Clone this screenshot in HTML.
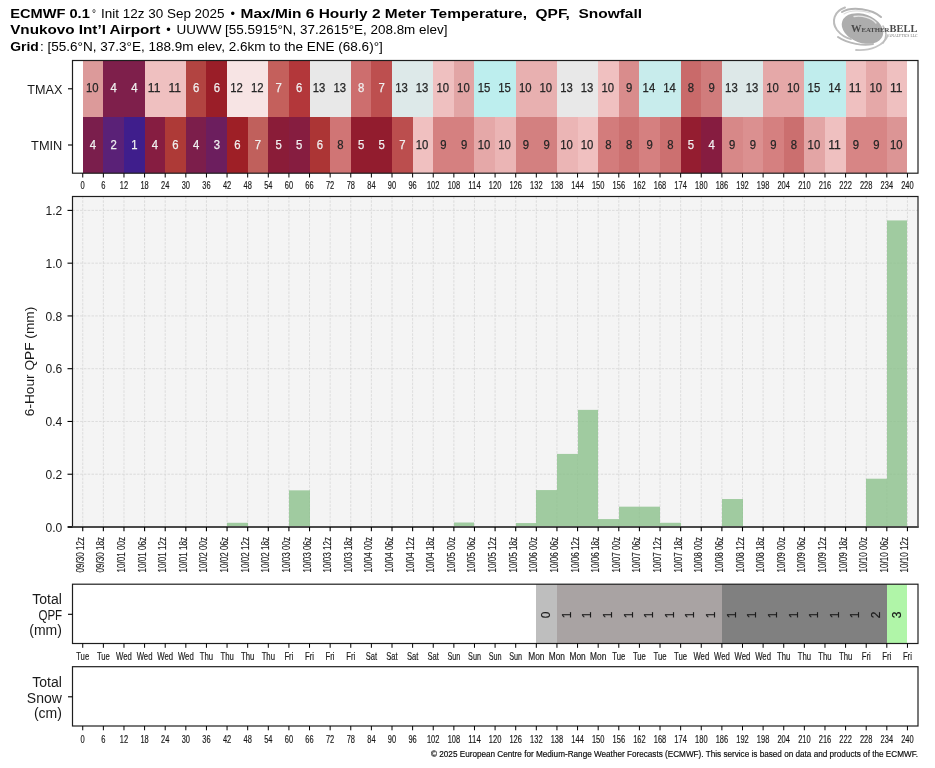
<!DOCTYPE html><html><head><meta charset="utf-8"><style>html,body{margin:0;padding:0;background:#fff;width:935px;height:768px;overflow:hidden}svg{display:block;will-change:transform}text{font-family:"Liberation Sans", sans-serif}.b{stroke:#1a1a1a;stroke-width:0.18}</style></head><body>
<svg width="935" height="768" viewBox="0 0 935 768">
<rect width="935" height="768" fill="#fff"/>
<text x="10.2" y="17.6" font-size="13.0" font-weight="bold" text-anchor="start" fill="#000" textLength="79.6" lengthAdjust="spacingAndGlyphs">ECMWF 0.1</text>
<text x="92.0" y="17.6" font-size="13.0" text-anchor="start" fill="#000" textLength="4.0" lengthAdjust="spacingAndGlyphs">°</text>
<text x="101.0" y="17.6" font-size="13.0" text-anchor="start" fill="#000" textLength="123.6" lengthAdjust="spacingAndGlyphs">Init 12z 30 Sep 2025</text>
<text x="230.5" y="17.6" font-size="13.0" text-anchor="start" fill="#000" textLength="4.5" lengthAdjust="spacingAndGlyphs">•</text>
<text x="240.6" y="17.6" font-size="13.0" font-weight="bold" text-anchor="start" fill="#000" textLength="401.4" lengthAdjust="spacingAndGlyphs" style="white-space:pre">Max/Min 6 Hourly 2 Meter Temperature,  QPF,  Snowfall</text>
<text x="10.2" y="34.2" font-size="13.0" font-weight="bold" text-anchor="start" fill="#000" textLength="150.2" lengthAdjust="spacingAndGlyphs">Vnukovo Int’l Airport</text>
<text x="166.3" y="34.2" font-size="13.0" text-anchor="start" fill="#000" textLength="4.5" lengthAdjust="spacingAndGlyphs">•</text>
<text x="176.5" y="34.2" font-size="13.0" text-anchor="start" fill="#000" textLength="271.0" lengthAdjust="spacingAndGlyphs">UUWW [55.5915°N, 37.2615°E, 208.8m elev]</text>
<text x="10.2" y="50.8" font-size="13.0" font-weight="bold" text-anchor="start" fill="#000" textLength="28.6" lengthAdjust="spacingAndGlyphs">Grid</text>
<text x="40.0" y="50.8" font-size="13.0" text-anchor="start" fill="#000" textLength="342.8" lengthAdjust="spacingAndGlyphs">: [55.6°N, 37.3°E, 188.9m elev, 2.6km to the ENE (68.6)°]</text>
<g fill="none" stroke-linecap="round"><ellipse cx="862.5" cy="28.5" rx="21.5" ry="14.3" fill="#adadad" transform="rotate(20 862.5 28.5)"/><path d="M854,16.5 C862,15 872,18 876,23" stroke="#e6e6e6" stroke-width="1.3"/><path d="M844,14 C850,10 862,10 870,13" stroke="#dedede" stroke-width="1.1"/><path d="M845,7.5 C834,11 831,22 837,30 C841,35 846,38 851,39" stroke="#bcbcbc" stroke-width="2"/><path d="M842,12 C852,6 872,9 881,17" stroke="#b4b4b4" stroke-width="2"/><path d="M838,37 C848,44 864,46 873,44" stroke="#b8b8b8" stroke-width="2"/><path d="M856,50 C870,51 884,46 888,35" stroke="#c4c4c4" stroke-width="1.8"/><path d="M883,26 C887,31 887,38 883,43" stroke="#bdbdbd" stroke-width="1.6"/></g>
<text x="851" y="32.4" style="font-family:'Liberation Serif',serif" font-weight="bold" font-size="10.5" fill="#4a4a4a" textLength="66.4" lengthAdjust="spacingAndGlyphs">W<tspan font-size="6.8">EATHER</tspan>BELL</text>
<text x="888.5" y="37" style="font-family:'Liberation Serif',serif" font-size="3.2" fill="#707070" textLength="29" lengthAdjust="spacingAndGlyphs">ANALYTICS LLC</text>
<rect x="83" y="60.5" width="20" height="56.5" fill="#dc9a9a"/>
<rect x="103" y="60.5" width="21" height="56.5" fill="#7e1f4b"/>
<rect x="124" y="60.5" width="21" height="56.5" fill="#7e1f4b"/>
<rect x="145" y="60.5" width="20" height="56.5" fill="#efc0c0"/>
<rect x="165" y="60.5" width="21" height="56.5" fill="#efc0c0"/>
<rect x="186" y="60.5" width="20" height="56.5" fill="#b24441"/>
<rect x="206" y="60.5" width="21" height="56.5" fill="#9a1e28"/>
<rect x="227" y="60.5" width="21" height="56.5" fill="#f7e4e4"/>
<rect x="248" y="60.5" width="20" height="56.5" fill="#f7e4e4"/>
<rect x="268" y="60.5" width="21" height="56.5" fill="#c4605c"/>
<rect x="289" y="60.5" width="21" height="56.5" fill="#b3373a"/>
<rect x="310" y="60.5" width="20" height="56.5" fill="#e8e8e8"/>
<rect x="330" y="60.5" width="21" height="56.5" fill="#e8e8e8"/>
<rect x="351" y="60.5" width="20" height="56.5" fill="#cd6e6e"/>
<rect x="371" y="60.5" width="21" height="56.5" fill="#bd4f4f"/>
<rect x="392" y="60.5" width="21" height="56.5" fill="#dde9e9"/>
<rect x="413" y="60.5" width="20" height="56.5" fill="#dde9e9"/>
<rect x="433" y="60.5" width="21" height="56.5" fill="#efc0c0"/>
<rect x="454" y="60.5" width="20" height="56.5" fill="#e2a5a5"/>
<rect x="474" y="60.5" width="21" height="56.5" fill="#bdeeee"/>
<rect x="495" y="60.5" width="21" height="56.5" fill="#bdeeee"/>
<rect x="516" y="60.5" width="20" height="56.5" fill="#e8b0b0"/>
<rect x="536" y="60.5" width="21" height="56.5" fill="#e8b0b0"/>
<rect x="557" y="60.5" width="21" height="56.5" fill="#e8e8e8"/>
<rect x="578" y="60.5" width="20" height="56.5" fill="#e8e8e8"/>
<rect x="598" y="60.5" width="21" height="56.5" fill="#f0c0c0"/>
<rect x="619" y="60.5" width="20" height="56.5" fill="#d98c8c"/>
<rect x="639" y="60.5" width="21" height="56.5" fill="#c8ecec"/>
<rect x="660" y="60.5" width="21" height="56.5" fill="#c8ecec"/>
<rect x="681" y="60.5" width="20" height="56.5" fill="#c96a6a"/>
<rect x="701" y="60.5" width="21" height="56.5" fill="#d07c7c"/>
<rect x="722" y="60.5" width="21" height="56.5" fill="#dde8e8"/>
<rect x="743" y="60.5" width="20" height="56.5" fill="#dde8e8"/>
<rect x="763" y="60.5" width="21" height="56.5" fill="#e5a8a8"/>
<rect x="784" y="60.5" width="20" height="56.5" fill="#e5a8a8"/>
<rect x="804" y="60.5" width="21" height="56.5" fill="#c0eded"/>
<rect x="825" y="60.5" width="21" height="56.5" fill="#c0eded"/>
<rect x="846" y="60.5" width="20" height="56.5" fill="#efc0c0"/>
<rect x="866" y="60.5" width="21" height="56.5" fill="#e5a8a8"/>
<rect x="887" y="60.5" width="20" height="56.5" fill="#efc0c0"/>
<rect x="83" y="117.0" width="20" height="56.2" fill="#7a1e4c"/>
<rect x="103" y="117.0" width="21" height="56.2" fill="#5a2177"/>
<rect x="124" y="117.0" width="21" height="56.2" fill="#3f1e8c"/>
<rect x="145" y="117.0" width="20" height="56.2" fill="#861d41"/>
<rect x="165" y="117.0" width="21" height="56.2" fill="#ae3a37"/>
<rect x="186" y="117.0" width="20" height="56.2" fill="#7c1e4b"/>
<rect x="206" y="117.0" width="21" height="56.2" fill="#6c1e5e"/>
<rect x="227" y="117.0" width="21" height="56.2" fill="#9e1f26"/>
<rect x="248" y="117.0" width="20" height="56.2" fill="#c0605c"/>
<rect x="268" y="117.0" width="21" height="56.2" fill="#8a1c38"/>
<rect x="289" y="117.0" width="21" height="56.2" fill="#861d40"/>
<rect x="310" y="117.0" width="20" height="56.2" fill="#ac3535"/>
<rect x="330" y="117.0" width="21" height="56.2" fill="#d07575"/>
<rect x="351" y="117.0" width="20" height="56.2" fill="#921c2e"/>
<rect x="371" y="117.0" width="21" height="56.2" fill="#921c2e"/>
<rect x="392" y="117.0" width="21" height="56.2" fill="#bb4e4e"/>
<rect x="413" y="117.0" width="20" height="56.2" fill="#f0c0c0"/>
<rect x="433" y="117.0" width="21" height="56.2" fill="#d58080"/>
<rect x="454" y="117.0" width="20" height="56.2" fill="#d58080"/>
<rect x="474" y="117.0" width="21" height="56.2" fill="#e5a8a8"/>
<rect x="495" y="117.0" width="21" height="56.2" fill="#ebb5b5"/>
<rect x="516" y="117.0" width="20" height="56.2" fill="#d38080"/>
<rect x="536" y="117.0" width="21" height="56.2" fill="#d38080"/>
<rect x="557" y="117.0" width="21" height="56.2" fill="#ebb5b5"/>
<rect x="578" y="117.0" width="20" height="56.2" fill="#f0c0c0"/>
<rect x="598" y="117.0" width="21" height="56.2" fill="#d37c7c"/>
<rect x="619" y="117.0" width="20" height="56.2" fill="#cc7070"/>
<rect x="639" y="117.0" width="21" height="56.2" fill="#d58080"/>
<rect x="660" y="117.0" width="21" height="56.2" fill="#cc7070"/>
<rect x="681" y="117.0" width="20" height="56.2" fill="#941d30"/>
<rect x="701" y="117.0" width="21" height="56.2" fill="#861c40"/>
<rect x="722" y="117.0" width="21" height="56.2" fill="#d78888"/>
<rect x="743" y="117.0" width="20" height="56.2" fill="#db9090"/>
<rect x="763" y="117.0" width="21" height="56.2" fill="#d58080"/>
<rect x="784" y="117.0" width="20" height="56.2" fill="#cb6f6f"/>
<rect x="804" y="117.0" width="21" height="56.2" fill="#e3a5a5"/>
<rect x="825" y="117.0" width="21" height="56.2" fill="#efc0c0"/>
<rect x="846" y="117.0" width="20" height="56.2" fill="#d78585"/>
<rect x="866" y="117.0" width="21" height="56.2" fill="#d78585"/>
<rect x="887" y="117.0" width="20" height="56.2" fill="#dc9595"/>
<text x="92.2" y="92.0" font-size="12.3" text-anchor="middle" fill="#262626" textLength="12.6" lengthAdjust="spacingAndGlyphs" stroke="#262626" stroke-width="0.25">10</text>
<text x="113.7" y="92.0" font-size="12.3" text-anchor="middle" fill="#f0f0f0" textLength="6.3" lengthAdjust="spacingAndGlyphs" stroke="#f0f0f0" stroke-width="0.25">4</text>
<text x="134.3" y="92.0" font-size="12.3" text-anchor="middle" fill="#f0f0f0" textLength="6.3" lengthAdjust="spacingAndGlyphs" stroke="#f0f0f0" stroke-width="0.25">4</text>
<text x="154.1" y="92.0" font-size="12.3" text-anchor="middle" fill="#262626" textLength="12.6" lengthAdjust="spacingAndGlyphs" stroke="#262626" stroke-width="0.25">11</text>
<text x="174.7" y="92.0" font-size="12.3" text-anchor="middle" fill="#262626" textLength="12.6" lengthAdjust="spacingAndGlyphs" stroke="#262626" stroke-width="0.25">11</text>
<text x="196.1" y="92.0" font-size="12.3" text-anchor="middle" fill="#f0f0f0" textLength="6.3" lengthAdjust="spacingAndGlyphs" stroke="#f0f0f0" stroke-width="0.25">6</text>
<text x="216.8" y="92.0" font-size="12.3" text-anchor="middle" fill="#f0f0f0" textLength="6.3" lengthAdjust="spacingAndGlyphs" stroke="#f0f0f0" stroke-width="0.25">6</text>
<text x="236.6" y="92.0" font-size="12.3" text-anchor="middle" fill="#262626" textLength="12.6" lengthAdjust="spacingAndGlyphs" stroke="#262626" stroke-width="0.25">12</text>
<text x="257.2" y="92.0" font-size="12.3" text-anchor="middle" fill="#262626" textLength="12.6" lengthAdjust="spacingAndGlyphs" stroke="#262626" stroke-width="0.25">12</text>
<text x="278.6" y="92.0" font-size="12.3" text-anchor="middle" fill="#f0f0f0" textLength="6.3" lengthAdjust="spacingAndGlyphs" stroke="#f0f0f0" stroke-width="0.25">7</text>
<text x="299.2" y="92.0" font-size="12.3" text-anchor="middle" fill="#f0f0f0" textLength="6.3" lengthAdjust="spacingAndGlyphs" stroke="#f0f0f0" stroke-width="0.25">6</text>
<text x="319.0" y="92.0" font-size="12.3" text-anchor="middle" fill="#262626" textLength="12.6" lengthAdjust="spacingAndGlyphs" stroke="#262626" stroke-width="0.25">13</text>
<text x="339.7" y="92.0" font-size="12.3" text-anchor="middle" fill="#262626" textLength="12.6" lengthAdjust="spacingAndGlyphs" stroke="#262626" stroke-width="0.25">13</text>
<text x="361.1" y="92.0" font-size="12.3" text-anchor="middle" fill="#f0f0f0" textLength="6.3" lengthAdjust="spacingAndGlyphs" stroke="#f0f0f0" stroke-width="0.25">8</text>
<text x="381.7" y="92.0" font-size="12.3" text-anchor="middle" fill="#f0f0f0" textLength="6.3" lengthAdjust="spacingAndGlyphs" stroke="#f0f0f0" stroke-width="0.25">7</text>
<text x="401.5" y="92.0" font-size="12.3" text-anchor="middle" fill="#262626" textLength="12.6" lengthAdjust="spacingAndGlyphs" stroke="#262626" stroke-width="0.25">13</text>
<text x="422.1" y="92.0" font-size="12.3" text-anchor="middle" fill="#262626" textLength="12.6" lengthAdjust="spacingAndGlyphs" stroke="#262626" stroke-width="0.25">13</text>
<text x="442.7" y="92.0" font-size="12.3" text-anchor="middle" fill="#262626" textLength="12.6" lengthAdjust="spacingAndGlyphs" stroke="#262626" stroke-width="0.25">10</text>
<text x="463.4" y="92.0" font-size="12.3" text-anchor="middle" fill="#262626" textLength="12.6" lengthAdjust="spacingAndGlyphs" stroke="#262626" stroke-width="0.25">10</text>
<text x="484.0" y="92.0" font-size="12.3" text-anchor="middle" fill="#262626" textLength="12.6" lengthAdjust="spacingAndGlyphs" stroke="#262626" stroke-width="0.25">15</text>
<text x="504.6" y="92.0" font-size="12.3" text-anchor="middle" fill="#262626" textLength="12.6" lengthAdjust="spacingAndGlyphs" stroke="#262626" stroke-width="0.25">15</text>
<text x="525.2" y="92.0" font-size="12.3" text-anchor="middle" fill="#262626" textLength="12.6" lengthAdjust="spacingAndGlyphs" stroke="#262626" stroke-width="0.25">10</text>
<text x="545.8" y="92.0" font-size="12.3" text-anchor="middle" fill="#262626" textLength="12.6" lengthAdjust="spacingAndGlyphs" stroke="#262626" stroke-width="0.25">10</text>
<text x="566.5" y="92.0" font-size="12.3" text-anchor="middle" fill="#262626" textLength="12.6" lengthAdjust="spacingAndGlyphs" stroke="#262626" stroke-width="0.25">13</text>
<text x="587.1" y="92.0" font-size="12.3" text-anchor="middle" fill="#262626" textLength="12.6" lengthAdjust="spacingAndGlyphs" stroke="#262626" stroke-width="0.25">13</text>
<text x="607.7" y="92.0" font-size="12.3" text-anchor="middle" fill="#262626" textLength="12.6" lengthAdjust="spacingAndGlyphs" stroke="#262626" stroke-width="0.25">10</text>
<text x="629.1" y="92.0" font-size="12.3" text-anchor="middle" fill="#262626" textLength="6.3" lengthAdjust="spacingAndGlyphs" stroke="#262626" stroke-width="0.25">9</text>
<text x="648.9" y="92.0" font-size="12.3" text-anchor="middle" fill="#262626" textLength="12.6" lengthAdjust="spacingAndGlyphs" stroke="#262626" stroke-width="0.25">14</text>
<text x="669.5" y="92.0" font-size="12.3" text-anchor="middle" fill="#262626" textLength="12.6" lengthAdjust="spacingAndGlyphs" stroke="#262626" stroke-width="0.25">14</text>
<text x="691.0" y="92.0" font-size="12.3" text-anchor="middle" fill="#262626" textLength="6.3" lengthAdjust="spacingAndGlyphs" stroke="#262626" stroke-width="0.25">8</text>
<text x="711.6" y="92.0" font-size="12.3" text-anchor="middle" fill="#262626" textLength="6.3" lengthAdjust="spacingAndGlyphs" stroke="#262626" stroke-width="0.25">9</text>
<text x="731.4" y="92.0" font-size="12.3" text-anchor="middle" fill="#262626" textLength="12.6" lengthAdjust="spacingAndGlyphs" stroke="#262626" stroke-width="0.25">13</text>
<text x="752.0" y="92.0" font-size="12.3" text-anchor="middle" fill="#262626" textLength="12.6" lengthAdjust="spacingAndGlyphs" stroke="#262626" stroke-width="0.25">13</text>
<text x="772.6" y="92.0" font-size="12.3" text-anchor="middle" fill="#262626" textLength="12.6" lengthAdjust="spacingAndGlyphs" stroke="#262626" stroke-width="0.25">10</text>
<text x="793.2" y="92.0" font-size="12.3" text-anchor="middle" fill="#262626" textLength="12.6" lengthAdjust="spacingAndGlyphs" stroke="#262626" stroke-width="0.25">10</text>
<text x="813.9" y="92.0" font-size="12.3" text-anchor="middle" fill="#262626" textLength="12.6" lengthAdjust="spacingAndGlyphs" stroke="#262626" stroke-width="0.25">15</text>
<text x="834.5" y="92.0" font-size="12.3" text-anchor="middle" fill="#262626" textLength="12.6" lengthAdjust="spacingAndGlyphs" stroke="#262626" stroke-width="0.25">14</text>
<text x="855.1" y="92.0" font-size="12.3" text-anchor="middle" fill="#262626" textLength="12.6" lengthAdjust="spacingAndGlyphs" stroke="#262626" stroke-width="0.25">11</text>
<text x="875.7" y="92.0" font-size="12.3" text-anchor="middle" fill="#262626" textLength="12.6" lengthAdjust="spacingAndGlyphs" stroke="#262626" stroke-width="0.25">10</text>
<text x="896.3" y="92.0" font-size="12.3" text-anchor="middle" fill="#262626" textLength="12.6" lengthAdjust="spacingAndGlyphs" stroke="#262626" stroke-width="0.25">11</text>
<text x="93.0" y="148.6" font-size="12.3" text-anchor="middle" fill="#f0f0f0" textLength="6.3" lengthAdjust="spacingAndGlyphs" stroke="#f0f0f0" stroke-width="0.25">4</text>
<text x="113.7" y="148.6" font-size="12.3" text-anchor="middle" fill="#f0f0f0" textLength="6.3" lengthAdjust="spacingAndGlyphs" stroke="#f0f0f0" stroke-width="0.25">2</text>
<text x="134.3" y="148.6" font-size="12.3" text-anchor="middle" fill="#f0f0f0" textLength="6.3" lengthAdjust="spacingAndGlyphs" stroke="#f0f0f0" stroke-width="0.25">1</text>
<text x="154.9" y="148.6" font-size="12.3" text-anchor="middle" fill="#f0f0f0" textLength="6.3" lengthAdjust="spacingAndGlyphs" stroke="#f0f0f0" stroke-width="0.25">4</text>
<text x="175.5" y="148.6" font-size="12.3" text-anchor="middle" fill="#f0f0f0" textLength="6.3" lengthAdjust="spacingAndGlyphs" stroke="#f0f0f0" stroke-width="0.25">6</text>
<text x="196.1" y="148.6" font-size="12.3" text-anchor="middle" fill="#f0f0f0" textLength="6.3" lengthAdjust="spacingAndGlyphs" stroke="#f0f0f0" stroke-width="0.25">4</text>
<text x="216.8" y="148.6" font-size="12.3" text-anchor="middle" fill="#f0f0f0" textLength="6.3" lengthAdjust="spacingAndGlyphs" stroke="#f0f0f0" stroke-width="0.25">3</text>
<text x="237.4" y="148.6" font-size="12.3" text-anchor="middle" fill="#f0f0f0" textLength="6.3" lengthAdjust="spacingAndGlyphs" stroke="#f0f0f0" stroke-width="0.25">6</text>
<text x="258.0" y="148.6" font-size="12.3" text-anchor="middle" fill="#f0f0f0" textLength="6.3" lengthAdjust="spacingAndGlyphs" stroke="#f0f0f0" stroke-width="0.25">7</text>
<text x="278.6" y="148.6" font-size="12.3" text-anchor="middle" fill="#f0f0f0" textLength="6.3" lengthAdjust="spacingAndGlyphs" stroke="#f0f0f0" stroke-width="0.25">5</text>
<text x="299.2" y="148.6" font-size="12.3" text-anchor="middle" fill="#f0f0f0" textLength="6.3" lengthAdjust="spacingAndGlyphs" stroke="#f0f0f0" stroke-width="0.25">5</text>
<text x="319.8" y="148.6" font-size="12.3" text-anchor="middle" fill="#f0f0f0" textLength="6.3" lengthAdjust="spacingAndGlyphs" stroke="#f0f0f0" stroke-width="0.25">6</text>
<text x="340.5" y="148.6" font-size="12.3" text-anchor="middle" fill="#262626" textLength="6.3" lengthAdjust="spacingAndGlyphs" stroke="#262626" stroke-width="0.25">8</text>
<text x="361.1" y="148.6" font-size="12.3" text-anchor="middle" fill="#f0f0f0" textLength="6.3" lengthAdjust="spacingAndGlyphs" stroke="#f0f0f0" stroke-width="0.25">5</text>
<text x="381.7" y="148.6" font-size="12.3" text-anchor="middle" fill="#f0f0f0" textLength="6.3" lengthAdjust="spacingAndGlyphs" stroke="#f0f0f0" stroke-width="0.25">5</text>
<text x="402.3" y="148.6" font-size="12.3" text-anchor="middle" fill="#f0f0f0" textLength="6.3" lengthAdjust="spacingAndGlyphs" stroke="#f0f0f0" stroke-width="0.25">7</text>
<text x="422.1" y="148.6" font-size="12.3" text-anchor="middle" fill="#262626" textLength="12.6" lengthAdjust="spacingAndGlyphs" stroke="#262626" stroke-width="0.25">10</text>
<text x="443.5" y="148.6" font-size="12.3" text-anchor="middle" fill="#262626" textLength="6.3" lengthAdjust="spacingAndGlyphs" stroke="#262626" stroke-width="0.25">9</text>
<text x="464.2" y="148.6" font-size="12.3" text-anchor="middle" fill="#262626" textLength="6.3" lengthAdjust="spacingAndGlyphs" stroke="#262626" stroke-width="0.25">9</text>
<text x="484.0" y="148.6" font-size="12.3" text-anchor="middle" fill="#262626" textLength="12.6" lengthAdjust="spacingAndGlyphs" stroke="#262626" stroke-width="0.25">10</text>
<text x="504.6" y="148.6" font-size="12.3" text-anchor="middle" fill="#262626" textLength="12.6" lengthAdjust="spacingAndGlyphs" stroke="#262626" stroke-width="0.25">10</text>
<text x="526.0" y="148.6" font-size="12.3" text-anchor="middle" fill="#262626" textLength="6.3" lengthAdjust="spacingAndGlyphs" stroke="#262626" stroke-width="0.25">9</text>
<text x="546.6" y="148.6" font-size="12.3" text-anchor="middle" fill="#262626" textLength="6.3" lengthAdjust="spacingAndGlyphs" stroke="#262626" stroke-width="0.25">9</text>
<text x="566.5" y="148.6" font-size="12.3" text-anchor="middle" fill="#262626" textLength="12.6" lengthAdjust="spacingAndGlyphs" stroke="#262626" stroke-width="0.25">10</text>
<text x="587.1" y="148.6" font-size="12.3" text-anchor="middle" fill="#262626" textLength="12.6" lengthAdjust="spacingAndGlyphs" stroke="#262626" stroke-width="0.25">10</text>
<text x="608.5" y="148.6" font-size="12.3" text-anchor="middle" fill="#262626" textLength="6.3" lengthAdjust="spacingAndGlyphs" stroke="#262626" stroke-width="0.25">8</text>
<text x="629.1" y="148.6" font-size="12.3" text-anchor="middle" fill="#262626" textLength="6.3" lengthAdjust="spacingAndGlyphs" stroke="#262626" stroke-width="0.25">8</text>
<text x="649.7" y="148.6" font-size="12.3" text-anchor="middle" fill="#262626" textLength="6.3" lengthAdjust="spacingAndGlyphs" stroke="#262626" stroke-width="0.25">9</text>
<text x="670.3" y="148.6" font-size="12.3" text-anchor="middle" fill="#262626" textLength="6.3" lengthAdjust="spacingAndGlyphs" stroke="#262626" stroke-width="0.25">8</text>
<text x="691.0" y="148.6" font-size="12.3" text-anchor="middle" fill="#f0f0f0" textLength="6.3" lengthAdjust="spacingAndGlyphs" stroke="#f0f0f0" stroke-width="0.25">5</text>
<text x="711.6" y="148.6" font-size="12.3" text-anchor="middle" fill="#f0f0f0" textLength="6.3" lengthAdjust="spacingAndGlyphs" stroke="#f0f0f0" stroke-width="0.25">4</text>
<text x="732.2" y="148.6" font-size="12.3" text-anchor="middle" fill="#262626" textLength="6.3" lengthAdjust="spacingAndGlyphs" stroke="#262626" stroke-width="0.25">9</text>
<text x="752.8" y="148.6" font-size="12.3" text-anchor="middle" fill="#262626" textLength="6.3" lengthAdjust="spacingAndGlyphs" stroke="#262626" stroke-width="0.25">9</text>
<text x="773.4" y="148.6" font-size="12.3" text-anchor="middle" fill="#262626" textLength="6.3" lengthAdjust="spacingAndGlyphs" stroke="#262626" stroke-width="0.25">9</text>
<text x="794.0" y="148.6" font-size="12.3" text-anchor="middle" fill="#262626" textLength="6.3" lengthAdjust="spacingAndGlyphs" stroke="#262626" stroke-width="0.25">8</text>
<text x="813.9" y="148.6" font-size="12.3" text-anchor="middle" fill="#262626" textLength="12.6" lengthAdjust="spacingAndGlyphs" stroke="#262626" stroke-width="0.25">10</text>
<text x="834.5" y="148.6" font-size="12.3" text-anchor="middle" fill="#262626" textLength="12.6" lengthAdjust="spacingAndGlyphs" stroke="#262626" stroke-width="0.25">11</text>
<text x="855.9" y="148.6" font-size="12.3" text-anchor="middle" fill="#262626" textLength="6.3" lengthAdjust="spacingAndGlyphs" stroke="#262626" stroke-width="0.25">9</text>
<text x="876.5" y="148.6" font-size="12.3" text-anchor="middle" fill="#262626" textLength="6.3" lengthAdjust="spacingAndGlyphs" stroke="#262626" stroke-width="0.25">9</text>
<text x="896.3" y="148.6" font-size="12.3" text-anchor="middle" fill="#262626" textLength="12.6" lengthAdjust="spacingAndGlyphs" stroke="#262626" stroke-width="0.25">10</text>
<rect x="72.5" y="60.5" width="845.5" height="112.7" fill="none" stroke="#1e1e1e" stroke-width="1.2"/>
<line x1="68" y1="88.8" x2="72.5" y2="88.8" stroke="#000" stroke-width="1.1"/>
<text x="62.3" y="93.8" font-size="13.4" text-anchor="end" fill="#1a1a1a" textLength="35.0" lengthAdjust="spacingAndGlyphs">TMAX</text>
<line x1="68" y1="145.0" x2="72.5" y2="145.0" stroke="#000" stroke-width="1.1"/>
<text x="62.3" y="149.5" font-size="13.4" text-anchor="end" fill="#1a1a1a" textLength="31.2" lengthAdjust="spacingAndGlyphs">TMIN</text>
<line x1="82.74" y1="173.2" x2="82.74" y2="177.5" stroke="#000" stroke-width="1"/>
<text x="82.7" y="189.4" font-size="10.6" text-anchor="middle" fill="#1a1a1a" textLength="4.2" lengthAdjust="spacingAndGlyphs" class="b">0</text>
<line x1="103.36" y1="173.2" x2="103.36" y2="177.5" stroke="#000" stroke-width="1"/>
<text x="103.4" y="189.4" font-size="10.6" text-anchor="middle" fill="#1a1a1a" textLength="4.2" lengthAdjust="spacingAndGlyphs" class="b">6</text>
<line x1="123.97" y1="173.2" x2="123.97" y2="177.5" stroke="#000" stroke-width="1"/>
<text x="124.0" y="189.4" font-size="10.6" text-anchor="middle" fill="#1a1a1a" textLength="8.3" lengthAdjust="spacingAndGlyphs" class="b">12</text>
<line x1="144.59" y1="173.2" x2="144.59" y2="177.5" stroke="#000" stroke-width="1"/>
<text x="144.6" y="189.4" font-size="10.6" text-anchor="middle" fill="#1a1a1a" textLength="8.3" lengthAdjust="spacingAndGlyphs" class="b">18</text>
<line x1="165.21" y1="173.2" x2="165.21" y2="177.5" stroke="#000" stroke-width="1"/>
<text x="165.2" y="189.4" font-size="10.6" text-anchor="middle" fill="#1a1a1a" textLength="8.3" lengthAdjust="spacingAndGlyphs" class="b">24</text>
<line x1="185.83" y1="173.2" x2="185.83" y2="177.5" stroke="#000" stroke-width="1"/>
<text x="185.8" y="189.4" font-size="10.6" text-anchor="middle" fill="#1a1a1a" textLength="8.3" lengthAdjust="spacingAndGlyphs" class="b">30</text>
<line x1="206.44" y1="173.2" x2="206.44" y2="177.5" stroke="#000" stroke-width="1"/>
<text x="206.4" y="189.4" font-size="10.6" text-anchor="middle" fill="#1a1a1a" textLength="8.3" lengthAdjust="spacingAndGlyphs" class="b">36</text>
<line x1="227.06" y1="173.2" x2="227.06" y2="177.5" stroke="#000" stroke-width="1"/>
<text x="227.1" y="189.4" font-size="10.6" text-anchor="middle" fill="#1a1a1a" textLength="8.3" lengthAdjust="spacingAndGlyphs" class="b">42</text>
<line x1="247.68" y1="173.2" x2="247.68" y2="177.5" stroke="#000" stroke-width="1"/>
<text x="247.7" y="189.4" font-size="10.6" text-anchor="middle" fill="#1a1a1a" textLength="8.3" lengthAdjust="spacingAndGlyphs" class="b">48</text>
<line x1="268.30" y1="173.2" x2="268.30" y2="177.5" stroke="#000" stroke-width="1"/>
<text x="268.3" y="189.4" font-size="10.6" text-anchor="middle" fill="#1a1a1a" textLength="8.3" lengthAdjust="spacingAndGlyphs" class="b">54</text>
<line x1="288.91" y1="173.2" x2="288.91" y2="177.5" stroke="#000" stroke-width="1"/>
<text x="288.9" y="189.4" font-size="10.6" text-anchor="middle" fill="#1a1a1a" textLength="8.3" lengthAdjust="spacingAndGlyphs" class="b">60</text>
<line x1="309.53" y1="173.2" x2="309.53" y2="177.5" stroke="#000" stroke-width="1"/>
<text x="309.5" y="189.4" font-size="10.6" text-anchor="middle" fill="#1a1a1a" textLength="8.3" lengthAdjust="spacingAndGlyphs" class="b">66</text>
<line x1="330.15" y1="173.2" x2="330.15" y2="177.5" stroke="#000" stroke-width="1"/>
<text x="330.1" y="189.4" font-size="10.6" text-anchor="middle" fill="#1a1a1a" textLength="8.3" lengthAdjust="spacingAndGlyphs" class="b">72</text>
<line x1="350.77" y1="173.2" x2="350.77" y2="177.5" stroke="#000" stroke-width="1"/>
<text x="350.8" y="189.4" font-size="10.6" text-anchor="middle" fill="#1a1a1a" textLength="8.3" lengthAdjust="spacingAndGlyphs" class="b">78</text>
<line x1="371.38" y1="173.2" x2="371.38" y2="177.5" stroke="#000" stroke-width="1"/>
<text x="371.4" y="189.4" font-size="10.6" text-anchor="middle" fill="#1a1a1a" textLength="8.3" lengthAdjust="spacingAndGlyphs" class="b">84</text>
<line x1="392.00" y1="173.2" x2="392.00" y2="177.5" stroke="#000" stroke-width="1"/>
<text x="392.0" y="189.4" font-size="10.6" text-anchor="middle" fill="#1a1a1a" textLength="8.3" lengthAdjust="spacingAndGlyphs" class="b">90</text>
<line x1="412.62" y1="173.2" x2="412.62" y2="177.5" stroke="#000" stroke-width="1"/>
<text x="412.6" y="189.4" font-size="10.6" text-anchor="middle" fill="#1a1a1a" textLength="8.3" lengthAdjust="spacingAndGlyphs" class="b">96</text>
<line x1="433.24" y1="173.2" x2="433.24" y2="177.5" stroke="#000" stroke-width="1"/>
<text x="433.2" y="189.4" font-size="10.6" text-anchor="middle" fill="#1a1a1a" textLength="12.5" lengthAdjust="spacingAndGlyphs" class="b">102</text>
<line x1="453.86" y1="173.2" x2="453.86" y2="177.5" stroke="#000" stroke-width="1"/>
<text x="453.9" y="189.4" font-size="10.6" text-anchor="middle" fill="#1a1a1a" textLength="12.5" lengthAdjust="spacingAndGlyphs" class="b">108</text>
<line x1="474.47" y1="173.2" x2="474.47" y2="177.5" stroke="#000" stroke-width="1"/>
<text x="474.5" y="189.4" font-size="10.6" text-anchor="middle" fill="#1a1a1a" textLength="12.5" lengthAdjust="spacingAndGlyphs" class="b">114</text>
<line x1="495.09" y1="173.2" x2="495.09" y2="177.5" stroke="#000" stroke-width="1"/>
<text x="495.1" y="189.4" font-size="10.6" text-anchor="middle" fill="#1a1a1a" textLength="12.5" lengthAdjust="spacingAndGlyphs" class="b">120</text>
<line x1="515.71" y1="173.2" x2="515.71" y2="177.5" stroke="#000" stroke-width="1"/>
<text x="515.7" y="189.4" font-size="10.6" text-anchor="middle" fill="#1a1a1a" textLength="12.5" lengthAdjust="spacingAndGlyphs" class="b">126</text>
<line x1="536.32" y1="173.2" x2="536.32" y2="177.5" stroke="#000" stroke-width="1"/>
<text x="536.3" y="189.4" font-size="10.6" text-anchor="middle" fill="#1a1a1a" textLength="12.5" lengthAdjust="spacingAndGlyphs" class="b">132</text>
<line x1="556.94" y1="173.2" x2="556.94" y2="177.5" stroke="#000" stroke-width="1"/>
<text x="556.9" y="189.4" font-size="10.6" text-anchor="middle" fill="#1a1a1a" textLength="12.5" lengthAdjust="spacingAndGlyphs" class="b">138</text>
<line x1="577.56" y1="173.2" x2="577.56" y2="177.5" stroke="#000" stroke-width="1"/>
<text x="577.6" y="189.4" font-size="10.6" text-anchor="middle" fill="#1a1a1a" textLength="12.5" lengthAdjust="spacingAndGlyphs" class="b">144</text>
<line x1="598.18" y1="173.2" x2="598.18" y2="177.5" stroke="#000" stroke-width="1"/>
<text x="598.2" y="189.4" font-size="10.6" text-anchor="middle" fill="#1a1a1a" textLength="12.5" lengthAdjust="spacingAndGlyphs" class="b">150</text>
<line x1="618.79" y1="173.2" x2="618.79" y2="177.5" stroke="#000" stroke-width="1"/>
<text x="618.8" y="189.4" font-size="10.6" text-anchor="middle" fill="#1a1a1a" textLength="12.5" lengthAdjust="spacingAndGlyphs" class="b">156</text>
<line x1="639.41" y1="173.2" x2="639.41" y2="177.5" stroke="#000" stroke-width="1"/>
<text x="639.4" y="189.4" font-size="10.6" text-anchor="middle" fill="#1a1a1a" textLength="12.5" lengthAdjust="spacingAndGlyphs" class="b">162</text>
<line x1="660.03" y1="173.2" x2="660.03" y2="177.5" stroke="#000" stroke-width="1"/>
<text x="660.0" y="189.4" font-size="10.6" text-anchor="middle" fill="#1a1a1a" textLength="12.5" lengthAdjust="spacingAndGlyphs" class="b">168</text>
<line x1="680.65" y1="173.2" x2="680.65" y2="177.5" stroke="#000" stroke-width="1"/>
<text x="680.6" y="189.4" font-size="10.6" text-anchor="middle" fill="#1a1a1a" textLength="12.5" lengthAdjust="spacingAndGlyphs" class="b">174</text>
<line x1="701.26" y1="173.2" x2="701.26" y2="177.5" stroke="#000" stroke-width="1"/>
<text x="701.3" y="189.4" font-size="10.6" text-anchor="middle" fill="#1a1a1a" textLength="12.5" lengthAdjust="spacingAndGlyphs" class="b">180</text>
<line x1="721.88" y1="173.2" x2="721.88" y2="177.5" stroke="#000" stroke-width="1"/>
<text x="721.9" y="189.4" font-size="10.6" text-anchor="middle" fill="#1a1a1a" textLength="12.5" lengthAdjust="spacingAndGlyphs" class="b">186</text>
<line x1="742.50" y1="173.2" x2="742.50" y2="177.5" stroke="#000" stroke-width="1"/>
<text x="742.5" y="189.4" font-size="10.6" text-anchor="middle" fill="#1a1a1a" textLength="12.5" lengthAdjust="spacingAndGlyphs" class="b">192</text>
<line x1="763.12" y1="173.2" x2="763.12" y2="177.5" stroke="#000" stroke-width="1"/>
<text x="763.1" y="189.4" font-size="10.6" text-anchor="middle" fill="#1a1a1a" textLength="12.5" lengthAdjust="spacingAndGlyphs" class="b">198</text>
<line x1="783.74" y1="173.2" x2="783.74" y2="177.5" stroke="#000" stroke-width="1"/>
<text x="783.7" y="189.4" font-size="10.6" text-anchor="middle" fill="#1a1a1a" textLength="12.5" lengthAdjust="spacingAndGlyphs" class="b">204</text>
<line x1="804.35" y1="173.2" x2="804.35" y2="177.5" stroke="#000" stroke-width="1"/>
<text x="804.4" y="189.4" font-size="10.6" text-anchor="middle" fill="#1a1a1a" textLength="12.5" lengthAdjust="spacingAndGlyphs" class="b">210</text>
<line x1="824.97" y1="173.2" x2="824.97" y2="177.5" stroke="#000" stroke-width="1"/>
<text x="825.0" y="189.4" font-size="10.6" text-anchor="middle" fill="#1a1a1a" textLength="12.5" lengthAdjust="spacingAndGlyphs" class="b">216</text>
<line x1="845.59" y1="173.2" x2="845.59" y2="177.5" stroke="#000" stroke-width="1"/>
<text x="845.6" y="189.4" font-size="10.6" text-anchor="middle" fill="#1a1a1a" textLength="12.5" lengthAdjust="spacingAndGlyphs" class="b">222</text>
<line x1="866.21" y1="173.2" x2="866.21" y2="177.5" stroke="#000" stroke-width="1"/>
<text x="866.2" y="189.4" font-size="10.6" text-anchor="middle" fill="#1a1a1a" textLength="12.5" lengthAdjust="spacingAndGlyphs" class="b">228</text>
<line x1="886.82" y1="173.2" x2="886.82" y2="177.5" stroke="#000" stroke-width="1"/>
<text x="886.8" y="189.4" font-size="10.6" text-anchor="middle" fill="#1a1a1a" textLength="12.5" lengthAdjust="spacingAndGlyphs" class="b">234</text>
<line x1="907.44" y1="173.2" x2="907.44" y2="177.5" stroke="#000" stroke-width="1"/>
<text x="907.4" y="189.4" font-size="10.6" text-anchor="middle" fill="#1a1a1a" textLength="12.5" lengthAdjust="spacingAndGlyphs" class="b">240</text>
<rect x="72.5" y="196.5" width="845.5" height="330.5" fill="#f4f4f4"/>
<line x1="82.74" y1="196.5" x2="82.74" y2="527.0" stroke="#d6d6d6" stroke-width="0.8" stroke-dasharray="2.5,1.3"/>
<line x1="103.36" y1="196.5" x2="103.36" y2="527.0" stroke="#d6d6d6" stroke-width="0.8" stroke-dasharray="2.5,1.3"/>
<line x1="123.97" y1="196.5" x2="123.97" y2="527.0" stroke="#d6d6d6" stroke-width="0.8" stroke-dasharray="2.5,1.3"/>
<line x1="144.59" y1="196.5" x2="144.59" y2="527.0" stroke="#d6d6d6" stroke-width="0.8" stroke-dasharray="2.5,1.3"/>
<line x1="165.21" y1="196.5" x2="165.21" y2="527.0" stroke="#d6d6d6" stroke-width="0.8" stroke-dasharray="2.5,1.3"/>
<line x1="185.83" y1="196.5" x2="185.83" y2="527.0" stroke="#d6d6d6" stroke-width="0.8" stroke-dasharray="2.5,1.3"/>
<line x1="206.44" y1="196.5" x2="206.44" y2="527.0" stroke="#d6d6d6" stroke-width="0.8" stroke-dasharray="2.5,1.3"/>
<line x1="227.06" y1="196.5" x2="227.06" y2="527.0" stroke="#d6d6d6" stroke-width="0.8" stroke-dasharray="2.5,1.3"/>
<line x1="247.68" y1="196.5" x2="247.68" y2="527.0" stroke="#d6d6d6" stroke-width="0.8" stroke-dasharray="2.5,1.3"/>
<line x1="268.30" y1="196.5" x2="268.30" y2="527.0" stroke="#d6d6d6" stroke-width="0.8" stroke-dasharray="2.5,1.3"/>
<line x1="288.91" y1="196.5" x2="288.91" y2="527.0" stroke="#d6d6d6" stroke-width="0.8" stroke-dasharray="2.5,1.3"/>
<line x1="309.53" y1="196.5" x2="309.53" y2="527.0" stroke="#d6d6d6" stroke-width="0.8" stroke-dasharray="2.5,1.3"/>
<line x1="330.15" y1="196.5" x2="330.15" y2="527.0" stroke="#d6d6d6" stroke-width="0.8" stroke-dasharray="2.5,1.3"/>
<line x1="350.77" y1="196.5" x2="350.77" y2="527.0" stroke="#d6d6d6" stroke-width="0.8" stroke-dasharray="2.5,1.3"/>
<line x1="371.38" y1="196.5" x2="371.38" y2="527.0" stroke="#d6d6d6" stroke-width="0.8" stroke-dasharray="2.5,1.3"/>
<line x1="392.00" y1="196.5" x2="392.00" y2="527.0" stroke="#d6d6d6" stroke-width="0.8" stroke-dasharray="2.5,1.3"/>
<line x1="412.62" y1="196.5" x2="412.62" y2="527.0" stroke="#d6d6d6" stroke-width="0.8" stroke-dasharray="2.5,1.3"/>
<line x1="433.24" y1="196.5" x2="433.24" y2="527.0" stroke="#d6d6d6" stroke-width="0.8" stroke-dasharray="2.5,1.3"/>
<line x1="453.86" y1="196.5" x2="453.86" y2="527.0" stroke="#d6d6d6" stroke-width="0.8" stroke-dasharray="2.5,1.3"/>
<line x1="474.47" y1="196.5" x2="474.47" y2="527.0" stroke="#d6d6d6" stroke-width="0.8" stroke-dasharray="2.5,1.3"/>
<line x1="495.09" y1="196.5" x2="495.09" y2="527.0" stroke="#d6d6d6" stroke-width="0.8" stroke-dasharray="2.5,1.3"/>
<line x1="515.71" y1="196.5" x2="515.71" y2="527.0" stroke="#d6d6d6" stroke-width="0.8" stroke-dasharray="2.5,1.3"/>
<line x1="536.32" y1="196.5" x2="536.32" y2="527.0" stroke="#d6d6d6" stroke-width="0.8" stroke-dasharray="2.5,1.3"/>
<line x1="556.94" y1="196.5" x2="556.94" y2="527.0" stroke="#d6d6d6" stroke-width="0.8" stroke-dasharray="2.5,1.3"/>
<line x1="577.56" y1="196.5" x2="577.56" y2="527.0" stroke="#d6d6d6" stroke-width="0.8" stroke-dasharray="2.5,1.3"/>
<line x1="598.18" y1="196.5" x2="598.18" y2="527.0" stroke="#d6d6d6" stroke-width="0.8" stroke-dasharray="2.5,1.3"/>
<line x1="618.79" y1="196.5" x2="618.79" y2="527.0" stroke="#d6d6d6" stroke-width="0.8" stroke-dasharray="2.5,1.3"/>
<line x1="639.41" y1="196.5" x2="639.41" y2="527.0" stroke="#d6d6d6" stroke-width="0.8" stroke-dasharray="2.5,1.3"/>
<line x1="660.03" y1="196.5" x2="660.03" y2="527.0" stroke="#d6d6d6" stroke-width="0.8" stroke-dasharray="2.5,1.3"/>
<line x1="680.65" y1="196.5" x2="680.65" y2="527.0" stroke="#d6d6d6" stroke-width="0.8" stroke-dasharray="2.5,1.3"/>
<line x1="701.26" y1="196.5" x2="701.26" y2="527.0" stroke="#d6d6d6" stroke-width="0.8" stroke-dasharray="2.5,1.3"/>
<line x1="721.88" y1="196.5" x2="721.88" y2="527.0" stroke="#d6d6d6" stroke-width="0.8" stroke-dasharray="2.5,1.3"/>
<line x1="742.50" y1="196.5" x2="742.50" y2="527.0" stroke="#d6d6d6" stroke-width="0.8" stroke-dasharray="2.5,1.3"/>
<line x1="763.12" y1="196.5" x2="763.12" y2="527.0" stroke="#d6d6d6" stroke-width="0.8" stroke-dasharray="2.5,1.3"/>
<line x1="783.74" y1="196.5" x2="783.74" y2="527.0" stroke="#d6d6d6" stroke-width="0.8" stroke-dasharray="2.5,1.3"/>
<line x1="804.35" y1="196.5" x2="804.35" y2="527.0" stroke="#d6d6d6" stroke-width="0.8" stroke-dasharray="2.5,1.3"/>
<line x1="824.97" y1="196.5" x2="824.97" y2="527.0" stroke="#d6d6d6" stroke-width="0.8" stroke-dasharray="2.5,1.3"/>
<line x1="845.59" y1="196.5" x2="845.59" y2="527.0" stroke="#d6d6d6" stroke-width="0.8" stroke-dasharray="2.5,1.3"/>
<line x1="866.21" y1="196.5" x2="866.21" y2="527.0" stroke="#d6d6d6" stroke-width="0.8" stroke-dasharray="2.5,1.3"/>
<line x1="886.82" y1="196.5" x2="886.82" y2="527.0" stroke="#d6d6d6" stroke-width="0.8" stroke-dasharray="2.5,1.3"/>
<line x1="907.44" y1="196.5" x2="907.44" y2="527.0" stroke="#d6d6d6" stroke-width="0.8" stroke-dasharray="2.5,1.3"/>
<line x1="72.5" y1="474.23" x2="918.0" y2="474.23" stroke="#d6d6d6" stroke-width="0.8" stroke-dasharray="2.5,1.3"/>
<line x1="72.5" y1="421.47" x2="918.0" y2="421.47" stroke="#d6d6d6" stroke-width="0.8" stroke-dasharray="2.5,1.3"/>
<line x1="72.5" y1="368.70" x2="918.0" y2="368.70" stroke="#d6d6d6" stroke-width="0.8" stroke-dasharray="2.5,1.3"/>
<line x1="72.5" y1="315.93" x2="918.0" y2="315.93" stroke="#d6d6d6" stroke-width="0.8" stroke-dasharray="2.5,1.3"/>
<line x1="72.5" y1="263.17" x2="918.0" y2="263.17" stroke="#d6d6d6" stroke-width="0.8" stroke-dasharray="2.5,1.3"/>
<line x1="72.5" y1="210.40" x2="918.0" y2="210.40" stroke="#d6d6d6" stroke-width="0.8" stroke-dasharray="2.5,1.3"/>
<rect x="227" y="522.78" width="21" height="4.22" fill="#8bc18b" fill-opacity="0.8"/>
<rect x="289" y="490.33" width="21" height="36.67" fill="#8bc18b" fill-opacity="0.8"/>
<rect x="454" y="522.51" width="20" height="4.49" fill="#8bc18b" fill-opacity="0.8"/>
<rect x="516" y="523.04" width="20" height="3.96" fill="#8bc18b" fill-opacity="0.8"/>
<rect x="536" y="490.06" width="21" height="36.94" fill="#8bc18b" fill-opacity="0.8"/>
<rect x="557" y="453.92" width="21" height="73.08" fill="#8bc18b" fill-opacity="0.8"/>
<rect x="578" y="409.86" width="20" height="117.14" fill="#8bc18b" fill-opacity="0.8"/>
<rect x="598" y="519.09" width="21" height="7.92" fill="#8bc18b" fill-opacity="0.8"/>
<rect x="619" y="506.68" width="20" height="20.32" fill="#8bc18b" fill-opacity="0.8"/>
<rect x="639" y="506.68" width="21" height="20.32" fill="#8bc18b" fill-opacity="0.8"/>
<rect x="660" y="522.78" width="21" height="4.22" fill="#8bc18b" fill-opacity="0.8"/>
<rect x="722" y="499.03" width="21" height="27.97" fill="#8bc18b" fill-opacity="0.8"/>
<rect x="866" y="478.72" width="21" height="48.28" fill="#8bc18b" fill-opacity="0.8"/>
<rect x="887" y="220.43" width="20" height="306.57" fill="#8bc18b" fill-opacity="0.8"/>
<rect x="72.5" y="196.5" width="845.5" height="330.5" fill="none" stroke="#1e1e1e" stroke-width="1.2"/>
<line x1="67.8" y1="527.0" x2="918.6" y2="527.0" stroke="#4a4a4a" stroke-width="2"/>
<line x1="67.5" y1="527.00" x2="72.5" y2="527.00" stroke="#000" stroke-width="1.1"/>
<text x="62.3" y="531.7" font-size="13.3" text-anchor="end" fill="#1a1a1a" textLength="16.8" lengthAdjust="spacingAndGlyphs">0.0</text>
<line x1="67.5" y1="474.23" x2="72.5" y2="474.23" stroke="#000" stroke-width="1.1"/>
<text x="62.3" y="478.9" font-size="13.3" text-anchor="end" fill="#1a1a1a" textLength="16.8" lengthAdjust="spacingAndGlyphs">0.2</text>
<line x1="67.5" y1="421.47" x2="72.5" y2="421.47" stroke="#000" stroke-width="1.1"/>
<text x="62.3" y="426.2" font-size="13.3" text-anchor="end" fill="#1a1a1a" textLength="16.8" lengthAdjust="spacingAndGlyphs">0.4</text>
<line x1="67.5" y1="368.70" x2="72.5" y2="368.70" stroke="#000" stroke-width="1.1"/>
<text x="62.3" y="373.4" font-size="13.3" text-anchor="end" fill="#1a1a1a" textLength="16.8" lengthAdjust="spacingAndGlyphs">0.6</text>
<line x1="67.5" y1="315.93" x2="72.5" y2="315.93" stroke="#000" stroke-width="1.1"/>
<text x="62.3" y="320.6" font-size="13.3" text-anchor="end" fill="#1a1a1a" textLength="16.8" lengthAdjust="spacingAndGlyphs">0.8</text>
<line x1="67.5" y1="263.17" x2="72.5" y2="263.17" stroke="#000" stroke-width="1.1"/>
<text x="62.3" y="267.9" font-size="13.3" text-anchor="end" fill="#1a1a1a" textLength="16.8" lengthAdjust="spacingAndGlyphs">1.0</text>
<line x1="67.5" y1="210.40" x2="72.5" y2="210.40" stroke="#000" stroke-width="1.1"/>
<text x="62.3" y="215.1" font-size="13.3" text-anchor="end" fill="#1a1a1a" textLength="16.8" lengthAdjust="spacingAndGlyphs">1.2</text>
<text x="0.0" y="0.0" font-size="13.2" text-anchor="middle" fill="#1a1a1a" textLength="109.5" lengthAdjust="spacingAndGlyphs" transform="translate(34.0,361.5) rotate(-90)">6-Hour QPF (mm)</text>
<line x1="82.74" y1="527.0" x2="82.74" y2="531.3" stroke="#000" stroke-width="1.1"/>
<text x="0.0" y="0.0" font-size="10.3" text-anchor="end" fill="#1a1a1a" textLength="35.4" lengthAdjust="spacingAndGlyphs" stroke="#1a1a1a" stroke-width="0.15" transform="translate(83.74,537) rotate(-90)">09/30 12z</text>
<line x1="103.36" y1="527.0" x2="103.36" y2="531.3" stroke="#000" stroke-width="1.1"/>
<text x="0.0" y="0.0" font-size="10.3" text-anchor="end" fill="#1a1a1a" textLength="35.4" lengthAdjust="spacingAndGlyphs" stroke="#1a1a1a" stroke-width="0.15" transform="translate(104.36,537) rotate(-90)">09/30 18z</text>
<line x1="123.97" y1="527.0" x2="123.97" y2="531.3" stroke="#000" stroke-width="1.1"/>
<text x="0.0" y="0.0" font-size="10.3" text-anchor="end" fill="#1a1a1a" textLength="35.4" lengthAdjust="spacingAndGlyphs" stroke="#1a1a1a" stroke-width="0.15" transform="translate(124.97,537) rotate(-90)">10/01 00z</text>
<line x1="144.59" y1="527.0" x2="144.59" y2="531.3" stroke="#000" stroke-width="1.1"/>
<text x="0.0" y="0.0" font-size="10.3" text-anchor="end" fill="#1a1a1a" textLength="35.4" lengthAdjust="spacingAndGlyphs" stroke="#1a1a1a" stroke-width="0.15" transform="translate(145.59,537) rotate(-90)">10/01 06z</text>
<line x1="165.21" y1="527.0" x2="165.21" y2="531.3" stroke="#000" stroke-width="1.1"/>
<text x="0.0" y="0.0" font-size="10.3" text-anchor="end" fill="#1a1a1a" textLength="35.4" lengthAdjust="spacingAndGlyphs" stroke="#1a1a1a" stroke-width="0.15" transform="translate(166.21,537) rotate(-90)">10/01 12z</text>
<line x1="185.83" y1="527.0" x2="185.83" y2="531.3" stroke="#000" stroke-width="1.1"/>
<text x="0.0" y="0.0" font-size="10.3" text-anchor="end" fill="#1a1a1a" textLength="35.4" lengthAdjust="spacingAndGlyphs" stroke="#1a1a1a" stroke-width="0.15" transform="translate(186.83,537) rotate(-90)">10/01 18z</text>
<line x1="206.44" y1="527.0" x2="206.44" y2="531.3" stroke="#000" stroke-width="1.1"/>
<text x="0.0" y="0.0" font-size="10.3" text-anchor="end" fill="#1a1a1a" textLength="35.4" lengthAdjust="spacingAndGlyphs" stroke="#1a1a1a" stroke-width="0.15" transform="translate(207.44,537) rotate(-90)">10/02 00z</text>
<line x1="227.06" y1="527.0" x2="227.06" y2="531.3" stroke="#000" stroke-width="1.1"/>
<text x="0.0" y="0.0" font-size="10.3" text-anchor="end" fill="#1a1a1a" textLength="35.4" lengthAdjust="spacingAndGlyphs" stroke="#1a1a1a" stroke-width="0.15" transform="translate(228.06,537) rotate(-90)">10/02 06z</text>
<line x1="247.68" y1="527.0" x2="247.68" y2="531.3" stroke="#000" stroke-width="1.1"/>
<text x="0.0" y="0.0" font-size="10.3" text-anchor="end" fill="#1a1a1a" textLength="35.4" lengthAdjust="spacingAndGlyphs" stroke="#1a1a1a" stroke-width="0.15" transform="translate(248.68,537) rotate(-90)">10/02 12z</text>
<line x1="268.30" y1="527.0" x2="268.30" y2="531.3" stroke="#000" stroke-width="1.1"/>
<text x="0.0" y="0.0" font-size="10.3" text-anchor="end" fill="#1a1a1a" textLength="35.4" lengthAdjust="spacingAndGlyphs" stroke="#1a1a1a" stroke-width="0.15" transform="translate(269.30,537) rotate(-90)">10/02 18z</text>
<line x1="288.91" y1="527.0" x2="288.91" y2="531.3" stroke="#000" stroke-width="1.1"/>
<text x="0.0" y="0.0" font-size="10.3" text-anchor="end" fill="#1a1a1a" textLength="35.4" lengthAdjust="spacingAndGlyphs" stroke="#1a1a1a" stroke-width="0.15" transform="translate(289.91,537) rotate(-90)">10/03 00z</text>
<line x1="309.53" y1="527.0" x2="309.53" y2="531.3" stroke="#000" stroke-width="1.1"/>
<text x="0.0" y="0.0" font-size="10.3" text-anchor="end" fill="#1a1a1a" textLength="35.4" lengthAdjust="spacingAndGlyphs" stroke="#1a1a1a" stroke-width="0.15" transform="translate(310.53,537) rotate(-90)">10/03 06z</text>
<line x1="330.15" y1="527.0" x2="330.15" y2="531.3" stroke="#000" stroke-width="1.1"/>
<text x="0.0" y="0.0" font-size="10.3" text-anchor="end" fill="#1a1a1a" textLength="35.4" lengthAdjust="spacingAndGlyphs" stroke="#1a1a1a" stroke-width="0.15" transform="translate(331.15,537) rotate(-90)">10/03 12z</text>
<line x1="350.77" y1="527.0" x2="350.77" y2="531.3" stroke="#000" stroke-width="1.1"/>
<text x="0.0" y="0.0" font-size="10.3" text-anchor="end" fill="#1a1a1a" textLength="35.4" lengthAdjust="spacingAndGlyphs" stroke="#1a1a1a" stroke-width="0.15" transform="translate(351.77,537) rotate(-90)">10/03 18z</text>
<line x1="371.38" y1="527.0" x2="371.38" y2="531.3" stroke="#000" stroke-width="1.1"/>
<text x="0.0" y="0.0" font-size="10.3" text-anchor="end" fill="#1a1a1a" textLength="35.4" lengthAdjust="spacingAndGlyphs" stroke="#1a1a1a" stroke-width="0.15" transform="translate(372.38,537) rotate(-90)">10/04 00z</text>
<line x1="392.00" y1="527.0" x2="392.00" y2="531.3" stroke="#000" stroke-width="1.1"/>
<text x="0.0" y="0.0" font-size="10.3" text-anchor="end" fill="#1a1a1a" textLength="35.4" lengthAdjust="spacingAndGlyphs" stroke="#1a1a1a" stroke-width="0.15" transform="translate(393.00,537) rotate(-90)">10/04 06z</text>
<line x1="412.62" y1="527.0" x2="412.62" y2="531.3" stroke="#000" stroke-width="1.1"/>
<text x="0.0" y="0.0" font-size="10.3" text-anchor="end" fill="#1a1a1a" textLength="35.4" lengthAdjust="spacingAndGlyphs" stroke="#1a1a1a" stroke-width="0.15" transform="translate(413.62,537) rotate(-90)">10/04 12z</text>
<line x1="433.24" y1="527.0" x2="433.24" y2="531.3" stroke="#000" stroke-width="1.1"/>
<text x="0.0" y="0.0" font-size="10.3" text-anchor="end" fill="#1a1a1a" textLength="35.4" lengthAdjust="spacingAndGlyphs" stroke="#1a1a1a" stroke-width="0.15" transform="translate(434.24,537) rotate(-90)">10/04 18z</text>
<line x1="453.86" y1="527.0" x2="453.86" y2="531.3" stroke="#000" stroke-width="1.1"/>
<text x="0.0" y="0.0" font-size="10.3" text-anchor="end" fill="#1a1a1a" textLength="35.4" lengthAdjust="spacingAndGlyphs" stroke="#1a1a1a" stroke-width="0.15" transform="translate(454.86,537) rotate(-90)">10/05 00z</text>
<line x1="474.47" y1="527.0" x2="474.47" y2="531.3" stroke="#000" stroke-width="1.1"/>
<text x="0.0" y="0.0" font-size="10.3" text-anchor="end" fill="#1a1a1a" textLength="35.4" lengthAdjust="spacingAndGlyphs" stroke="#1a1a1a" stroke-width="0.15" transform="translate(475.47,537) rotate(-90)">10/05 06z</text>
<line x1="495.09" y1="527.0" x2="495.09" y2="531.3" stroke="#000" stroke-width="1.1"/>
<text x="0.0" y="0.0" font-size="10.3" text-anchor="end" fill="#1a1a1a" textLength="35.4" lengthAdjust="spacingAndGlyphs" stroke="#1a1a1a" stroke-width="0.15" transform="translate(496.09,537) rotate(-90)">10/05 12z</text>
<line x1="515.71" y1="527.0" x2="515.71" y2="531.3" stroke="#000" stroke-width="1.1"/>
<text x="0.0" y="0.0" font-size="10.3" text-anchor="end" fill="#1a1a1a" textLength="35.4" lengthAdjust="spacingAndGlyphs" stroke="#1a1a1a" stroke-width="0.15" transform="translate(516.71,537) rotate(-90)">10/05 18z</text>
<line x1="536.32" y1="527.0" x2="536.32" y2="531.3" stroke="#000" stroke-width="1.1"/>
<text x="0.0" y="0.0" font-size="10.3" text-anchor="end" fill="#1a1a1a" textLength="35.4" lengthAdjust="spacingAndGlyphs" stroke="#1a1a1a" stroke-width="0.15" transform="translate(537.32,537) rotate(-90)">10/06 00z</text>
<line x1="556.94" y1="527.0" x2="556.94" y2="531.3" stroke="#000" stroke-width="1.1"/>
<text x="0.0" y="0.0" font-size="10.3" text-anchor="end" fill="#1a1a1a" textLength="35.4" lengthAdjust="spacingAndGlyphs" stroke="#1a1a1a" stroke-width="0.15" transform="translate(557.94,537) rotate(-90)">10/06 06z</text>
<line x1="577.56" y1="527.0" x2="577.56" y2="531.3" stroke="#000" stroke-width="1.1"/>
<text x="0.0" y="0.0" font-size="10.3" text-anchor="end" fill="#1a1a1a" textLength="35.4" lengthAdjust="spacingAndGlyphs" stroke="#1a1a1a" stroke-width="0.15" transform="translate(578.56,537) rotate(-90)">10/06 12z</text>
<line x1="598.18" y1="527.0" x2="598.18" y2="531.3" stroke="#000" stroke-width="1.1"/>
<text x="0.0" y="0.0" font-size="10.3" text-anchor="end" fill="#1a1a1a" textLength="35.4" lengthAdjust="spacingAndGlyphs" stroke="#1a1a1a" stroke-width="0.15" transform="translate(599.18,537) rotate(-90)">10/06 18z</text>
<line x1="618.79" y1="527.0" x2="618.79" y2="531.3" stroke="#000" stroke-width="1.1"/>
<text x="0.0" y="0.0" font-size="10.3" text-anchor="end" fill="#1a1a1a" textLength="35.4" lengthAdjust="spacingAndGlyphs" stroke="#1a1a1a" stroke-width="0.15" transform="translate(619.79,537) rotate(-90)">10/07 00z</text>
<line x1="639.41" y1="527.0" x2="639.41" y2="531.3" stroke="#000" stroke-width="1.1"/>
<text x="0.0" y="0.0" font-size="10.3" text-anchor="end" fill="#1a1a1a" textLength="35.4" lengthAdjust="spacingAndGlyphs" stroke="#1a1a1a" stroke-width="0.15" transform="translate(640.41,537) rotate(-90)">10/07 06z</text>
<line x1="660.03" y1="527.0" x2="660.03" y2="531.3" stroke="#000" stroke-width="1.1"/>
<text x="0.0" y="0.0" font-size="10.3" text-anchor="end" fill="#1a1a1a" textLength="35.4" lengthAdjust="spacingAndGlyphs" stroke="#1a1a1a" stroke-width="0.15" transform="translate(661.03,537) rotate(-90)">10/07 12z</text>
<line x1="680.65" y1="527.0" x2="680.65" y2="531.3" stroke="#000" stroke-width="1.1"/>
<text x="0.0" y="0.0" font-size="10.3" text-anchor="end" fill="#1a1a1a" textLength="35.4" lengthAdjust="spacingAndGlyphs" stroke="#1a1a1a" stroke-width="0.15" transform="translate(681.65,537) rotate(-90)">10/07 18z</text>
<line x1="701.26" y1="527.0" x2="701.26" y2="531.3" stroke="#000" stroke-width="1.1"/>
<text x="0.0" y="0.0" font-size="10.3" text-anchor="end" fill="#1a1a1a" textLength="35.4" lengthAdjust="spacingAndGlyphs" stroke="#1a1a1a" stroke-width="0.15" transform="translate(702.26,537) rotate(-90)">10/08 00z</text>
<line x1="721.88" y1="527.0" x2="721.88" y2="531.3" stroke="#000" stroke-width="1.1"/>
<text x="0.0" y="0.0" font-size="10.3" text-anchor="end" fill="#1a1a1a" textLength="35.4" lengthAdjust="spacingAndGlyphs" stroke="#1a1a1a" stroke-width="0.15" transform="translate(722.88,537) rotate(-90)">10/08 06z</text>
<line x1="742.50" y1="527.0" x2="742.50" y2="531.3" stroke="#000" stroke-width="1.1"/>
<text x="0.0" y="0.0" font-size="10.3" text-anchor="end" fill="#1a1a1a" textLength="35.4" lengthAdjust="spacingAndGlyphs" stroke="#1a1a1a" stroke-width="0.15" transform="translate(743.50,537) rotate(-90)">10/08 12z</text>
<line x1="763.12" y1="527.0" x2="763.12" y2="531.3" stroke="#000" stroke-width="1.1"/>
<text x="0.0" y="0.0" font-size="10.3" text-anchor="end" fill="#1a1a1a" textLength="35.4" lengthAdjust="spacingAndGlyphs" stroke="#1a1a1a" stroke-width="0.15" transform="translate(764.12,537) rotate(-90)">10/08 18z</text>
<line x1="783.74" y1="527.0" x2="783.74" y2="531.3" stroke="#000" stroke-width="1.1"/>
<text x="0.0" y="0.0" font-size="10.3" text-anchor="end" fill="#1a1a1a" textLength="35.4" lengthAdjust="spacingAndGlyphs" stroke="#1a1a1a" stroke-width="0.15" transform="translate(784.74,537) rotate(-90)">10/09 00z</text>
<line x1="804.35" y1="527.0" x2="804.35" y2="531.3" stroke="#000" stroke-width="1.1"/>
<text x="0.0" y="0.0" font-size="10.3" text-anchor="end" fill="#1a1a1a" textLength="35.4" lengthAdjust="spacingAndGlyphs" stroke="#1a1a1a" stroke-width="0.15" transform="translate(805.35,537) rotate(-90)">10/09 06z</text>
<line x1="824.97" y1="527.0" x2="824.97" y2="531.3" stroke="#000" stroke-width="1.1"/>
<text x="0.0" y="0.0" font-size="10.3" text-anchor="end" fill="#1a1a1a" textLength="35.4" lengthAdjust="spacingAndGlyphs" stroke="#1a1a1a" stroke-width="0.15" transform="translate(825.97,537) rotate(-90)">10/09 12z</text>
<line x1="845.59" y1="527.0" x2="845.59" y2="531.3" stroke="#000" stroke-width="1.1"/>
<text x="0.0" y="0.0" font-size="10.3" text-anchor="end" fill="#1a1a1a" textLength="35.4" lengthAdjust="spacingAndGlyphs" stroke="#1a1a1a" stroke-width="0.15" transform="translate(846.59,537) rotate(-90)">10/09 18z</text>
<line x1="866.21" y1="527.0" x2="866.21" y2="531.3" stroke="#000" stroke-width="1.1"/>
<text x="0.0" y="0.0" font-size="10.3" text-anchor="end" fill="#1a1a1a" textLength="35.4" lengthAdjust="spacingAndGlyphs" stroke="#1a1a1a" stroke-width="0.15" transform="translate(867.21,537) rotate(-90)">10/10 00z</text>
<line x1="886.82" y1="527.0" x2="886.82" y2="531.3" stroke="#000" stroke-width="1.1"/>
<text x="0.0" y="0.0" font-size="10.3" text-anchor="end" fill="#1a1a1a" textLength="35.4" lengthAdjust="spacingAndGlyphs" stroke="#1a1a1a" stroke-width="0.15" transform="translate(887.82,537) rotate(-90)">10/10 06z</text>
<line x1="907.44" y1="527.0" x2="907.44" y2="531.3" stroke="#000" stroke-width="1.1"/>
<text x="0.0" y="0.0" font-size="10.3" text-anchor="end" fill="#1a1a1a" textLength="35.4" lengthAdjust="spacingAndGlyphs" stroke="#1a1a1a" stroke-width="0.15" transform="translate(908.44,537) rotate(-90)">10/10 12z</text>
<rect x="536" y="584.2" width="21" height="59.3" fill="#bebebe"/>
<rect x="557" y="584.2" width="21" height="59.3" fill="#a9a3a3"/>
<rect x="578" y="584.2" width="20" height="59.3" fill="#a9a3a3"/>
<rect x="598" y="584.2" width="21" height="59.3" fill="#a9a3a3"/>
<rect x="619" y="584.2" width="20" height="59.3" fill="#a9a3a3"/>
<rect x="639" y="584.2" width="21" height="59.3" fill="#a9a3a3"/>
<rect x="660" y="584.2" width="21" height="59.3" fill="#a9a3a3"/>
<rect x="681" y="584.2" width="20" height="59.3" fill="#a9a3a3"/>
<rect x="701" y="584.2" width="21" height="59.3" fill="#a9a3a3"/>
<rect x="722" y="584.2" width="21" height="59.3" fill="#808080"/>
<rect x="743" y="584.2" width="20" height="59.3" fill="#808080"/>
<rect x="763" y="584.2" width="21" height="59.3" fill="#808080"/>
<rect x="784" y="584.2" width="20" height="59.3" fill="#808080"/>
<rect x="804" y="584.2" width="21" height="59.3" fill="#808080"/>
<rect x="825" y="584.2" width="21" height="59.3" fill="#808080"/>
<rect x="846" y="584.2" width="20" height="59.3" fill="#808080"/>
<rect x="866" y="584.2" width="21" height="59.3" fill="#808080"/>
<rect x="887" y="584.2" width="20" height="59.3" fill="#b0f5a8"/>
<text x="0.0" y="0.0" font-size="12.0" text-anchor="middle" fill="#1a1a1a" class="b" transform="translate(550.13,614.8) rotate(-90)">0</text>
<text x="0.0" y="0.0" font-size="12.0" text-anchor="middle" fill="#1a1a1a" class="b" transform="translate(570.75,614.8) rotate(-90)">1</text>
<text x="0.0" y="0.0" font-size="12.0" text-anchor="middle" fill="#1a1a1a" class="b" transform="translate(591.37,614.8) rotate(-90)">1</text>
<text x="0.0" y="0.0" font-size="12.0" text-anchor="middle" fill="#1a1a1a" class="b" transform="translate(611.99,614.8) rotate(-90)">1</text>
<text x="0.0" y="0.0" font-size="12.0" text-anchor="middle" fill="#1a1a1a" class="b" transform="translate(632.60,614.8) rotate(-90)">1</text>
<text x="0.0" y="0.0" font-size="12.0" text-anchor="middle" fill="#1a1a1a" class="b" transform="translate(653.22,614.8) rotate(-90)">1</text>
<text x="0.0" y="0.0" font-size="12.0" text-anchor="middle" fill="#1a1a1a" class="b" transform="translate(673.84,614.8) rotate(-90)">1</text>
<text x="0.0" y="0.0" font-size="12.0" text-anchor="middle" fill="#1a1a1a" class="b" transform="translate(694.46,614.8) rotate(-90)">1</text>
<text x="0.0" y="0.0" font-size="12.0" text-anchor="middle" fill="#1a1a1a" class="b" transform="translate(715.07,614.8) rotate(-90)">1</text>
<text x="0.0" y="0.0" font-size="12.0" text-anchor="middle" fill="#1a1a1a" class="b" transform="translate(735.69,614.8) rotate(-90)">1</text>
<text x="0.0" y="0.0" font-size="12.0" text-anchor="middle" fill="#1a1a1a" class="b" transform="translate(756.31,614.8) rotate(-90)">1</text>
<text x="0.0" y="0.0" font-size="12.0" text-anchor="middle" fill="#1a1a1a" class="b" transform="translate(776.93,614.8) rotate(-90)">1</text>
<text x="0.0" y="0.0" font-size="12.0" text-anchor="middle" fill="#1a1a1a" class="b" transform="translate(797.54,614.8) rotate(-90)">1</text>
<text x="0.0" y="0.0" font-size="12.0" text-anchor="middle" fill="#1a1a1a" class="b" transform="translate(818.16,614.8) rotate(-90)">1</text>
<text x="0.0" y="0.0" font-size="12.0" text-anchor="middle" fill="#1a1a1a" class="b" transform="translate(838.78,614.8) rotate(-90)">1</text>
<text x="0.0" y="0.0" font-size="12.0" text-anchor="middle" fill="#1a1a1a" class="b" transform="translate(859.40,614.8) rotate(-90)">1</text>
<text x="0.0" y="0.0" font-size="12.0" text-anchor="middle" fill="#1a1a1a" class="b" transform="translate(880.01,614.8) rotate(-90)">2</text>
<text x="0.0" y="0.0" font-size="12.0" text-anchor="middle" fill="#1a1a1a" class="b" transform="translate(900.63,614.8) rotate(-90)">3</text>
<rect x="72.5" y="584.2" width="845.5" height="59.3" fill="none" stroke="#1e1e1e" stroke-width="1.2"/>
<line x1="68" y1="614.3" x2="72.5" y2="614.3" stroke="#000" stroke-width="1.1"/>
<text x="61.9" y="604.3" font-size="14.0" text-anchor="end" fill="#1a1a1a">Total</text>
<text x="62.2" y="620.0" font-size="14.0" text-anchor="end" fill="#1a1a1a" textLength="23.8" lengthAdjust="spacingAndGlyphs">QPF</text>
<text x="61.9" y="634.5" font-size="14.0" text-anchor="end" fill="#1a1a1a">(mm)</text>
<line x1="82.74" y1="643.5" x2="82.74" y2="647.8" stroke="#000" stroke-width="1"/>
<text x="82.7" y="660.4" font-size="10.4" text-anchor="middle" fill="#1a1a1a" textLength="13.0" lengthAdjust="spacingAndGlyphs" class="b">Tue</text>
<line x1="103.36" y1="643.5" x2="103.36" y2="647.8" stroke="#000" stroke-width="1"/>
<text x="103.4" y="660.4" font-size="10.4" text-anchor="middle" fill="#1a1a1a" textLength="13.0" lengthAdjust="spacingAndGlyphs" class="b">Tue</text>
<line x1="123.97" y1="643.5" x2="123.97" y2="647.8" stroke="#000" stroke-width="1"/>
<text x="124.0" y="660.4" font-size="10.4" text-anchor="middle" fill="#1a1a1a" textLength="15.8" lengthAdjust="spacingAndGlyphs" class="b">Wed</text>
<line x1="144.59" y1="643.5" x2="144.59" y2="647.8" stroke="#000" stroke-width="1"/>
<text x="144.6" y="660.4" font-size="10.4" text-anchor="middle" fill="#1a1a1a" textLength="15.8" lengthAdjust="spacingAndGlyphs" class="b">Wed</text>
<line x1="165.21" y1="643.5" x2="165.21" y2="647.8" stroke="#000" stroke-width="1"/>
<text x="165.2" y="660.4" font-size="10.4" text-anchor="middle" fill="#1a1a1a" textLength="15.8" lengthAdjust="spacingAndGlyphs" class="b">Wed</text>
<line x1="185.83" y1="643.5" x2="185.83" y2="647.8" stroke="#000" stroke-width="1"/>
<text x="185.8" y="660.4" font-size="10.4" text-anchor="middle" fill="#1a1a1a" textLength="15.8" lengthAdjust="spacingAndGlyphs" class="b">Wed</text>
<line x1="206.44" y1="643.5" x2="206.44" y2="647.8" stroke="#000" stroke-width="1"/>
<text x="206.4" y="660.4" font-size="10.4" text-anchor="middle" fill="#1a1a1a" textLength="13.3" lengthAdjust="spacingAndGlyphs" class="b">Thu</text>
<line x1="227.06" y1="643.5" x2="227.06" y2="647.8" stroke="#000" stroke-width="1"/>
<text x="227.1" y="660.4" font-size="10.4" text-anchor="middle" fill="#1a1a1a" textLength="13.3" lengthAdjust="spacingAndGlyphs" class="b">Thu</text>
<line x1="247.68" y1="643.5" x2="247.68" y2="647.8" stroke="#000" stroke-width="1"/>
<text x="247.7" y="660.4" font-size="10.4" text-anchor="middle" fill="#1a1a1a" textLength="13.3" lengthAdjust="spacingAndGlyphs" class="b">Thu</text>
<line x1="268.30" y1="643.5" x2="268.30" y2="647.8" stroke="#000" stroke-width="1"/>
<text x="268.3" y="660.4" font-size="10.4" text-anchor="middle" fill="#1a1a1a" textLength="13.3" lengthAdjust="spacingAndGlyphs" class="b">Thu</text>
<line x1="288.91" y1="643.5" x2="288.91" y2="647.8" stroke="#000" stroke-width="1"/>
<text x="288.9" y="660.4" font-size="10.4" text-anchor="middle" fill="#1a1a1a" textLength="9.0" lengthAdjust="spacingAndGlyphs" class="b">Fri</text>
<line x1="309.53" y1="643.5" x2="309.53" y2="647.8" stroke="#000" stroke-width="1"/>
<text x="309.5" y="660.4" font-size="10.4" text-anchor="middle" fill="#1a1a1a" textLength="9.0" lengthAdjust="spacingAndGlyphs" class="b">Fri</text>
<line x1="330.15" y1="643.5" x2="330.15" y2="647.8" stroke="#000" stroke-width="1"/>
<text x="330.1" y="660.4" font-size="10.4" text-anchor="middle" fill="#1a1a1a" textLength="9.0" lengthAdjust="spacingAndGlyphs" class="b">Fri</text>
<line x1="350.77" y1="643.5" x2="350.77" y2="647.8" stroke="#000" stroke-width="1"/>
<text x="350.8" y="660.4" font-size="10.4" text-anchor="middle" fill="#1a1a1a" textLength="9.0" lengthAdjust="spacingAndGlyphs" class="b">Fri</text>
<line x1="371.38" y1="643.5" x2="371.38" y2="647.8" stroke="#000" stroke-width="1"/>
<text x="371.4" y="660.4" font-size="10.4" text-anchor="middle" fill="#1a1a1a" textLength="11.4" lengthAdjust="spacingAndGlyphs" class="b">Sat</text>
<line x1="392.00" y1="643.5" x2="392.00" y2="647.8" stroke="#000" stroke-width="1"/>
<text x="392.0" y="660.4" font-size="10.4" text-anchor="middle" fill="#1a1a1a" textLength="11.4" lengthAdjust="spacingAndGlyphs" class="b">Sat</text>
<line x1="412.62" y1="643.5" x2="412.62" y2="647.8" stroke="#000" stroke-width="1"/>
<text x="412.6" y="660.4" font-size="10.4" text-anchor="middle" fill="#1a1a1a" textLength="11.4" lengthAdjust="spacingAndGlyphs" class="b">Sat</text>
<line x1="433.24" y1="643.5" x2="433.24" y2="647.8" stroke="#000" stroke-width="1"/>
<text x="433.2" y="660.4" font-size="10.4" text-anchor="middle" fill="#1a1a1a" textLength="11.4" lengthAdjust="spacingAndGlyphs" class="b">Sat</text>
<line x1="453.86" y1="643.5" x2="453.86" y2="647.8" stroke="#000" stroke-width="1"/>
<text x="453.9" y="660.4" font-size="10.4" text-anchor="middle" fill="#1a1a1a" textLength="12.9" lengthAdjust="spacingAndGlyphs" class="b">Sun</text>
<line x1="474.47" y1="643.5" x2="474.47" y2="647.8" stroke="#000" stroke-width="1"/>
<text x="474.5" y="660.4" font-size="10.4" text-anchor="middle" fill="#1a1a1a" textLength="12.9" lengthAdjust="spacingAndGlyphs" class="b">Sun</text>
<line x1="495.09" y1="643.5" x2="495.09" y2="647.8" stroke="#000" stroke-width="1"/>
<text x="495.1" y="660.4" font-size="10.4" text-anchor="middle" fill="#1a1a1a" textLength="12.9" lengthAdjust="spacingAndGlyphs" class="b">Sun</text>
<line x1="515.71" y1="643.5" x2="515.71" y2="647.8" stroke="#000" stroke-width="1"/>
<text x="515.7" y="660.4" font-size="10.4" text-anchor="middle" fill="#1a1a1a" textLength="12.9" lengthAdjust="spacingAndGlyphs" class="b">Sun</text>
<line x1="536.32" y1="643.5" x2="536.32" y2="647.8" stroke="#000" stroke-width="1"/>
<text x="536.3" y="660.4" font-size="10.4" text-anchor="middle" fill="#1a1a1a" textLength="16.2" lengthAdjust="spacingAndGlyphs" class="b">Mon</text>
<line x1="556.94" y1="643.5" x2="556.94" y2="647.8" stroke="#000" stroke-width="1"/>
<text x="556.9" y="660.4" font-size="10.4" text-anchor="middle" fill="#1a1a1a" textLength="16.2" lengthAdjust="spacingAndGlyphs" class="b">Mon</text>
<line x1="577.56" y1="643.5" x2="577.56" y2="647.8" stroke="#000" stroke-width="1"/>
<text x="577.6" y="660.4" font-size="10.4" text-anchor="middle" fill="#1a1a1a" textLength="16.2" lengthAdjust="spacingAndGlyphs" class="b">Mon</text>
<line x1="598.18" y1="643.5" x2="598.18" y2="647.8" stroke="#000" stroke-width="1"/>
<text x="598.2" y="660.4" font-size="10.4" text-anchor="middle" fill="#1a1a1a" textLength="16.2" lengthAdjust="spacingAndGlyphs" class="b">Mon</text>
<line x1="618.79" y1="643.5" x2="618.79" y2="647.8" stroke="#000" stroke-width="1"/>
<text x="618.8" y="660.4" font-size="10.4" text-anchor="middle" fill="#1a1a1a" textLength="13.0" lengthAdjust="spacingAndGlyphs" class="b">Tue</text>
<line x1="639.41" y1="643.5" x2="639.41" y2="647.8" stroke="#000" stroke-width="1"/>
<text x="639.4" y="660.4" font-size="10.4" text-anchor="middle" fill="#1a1a1a" textLength="13.0" lengthAdjust="spacingAndGlyphs" class="b">Tue</text>
<line x1="660.03" y1="643.5" x2="660.03" y2="647.8" stroke="#000" stroke-width="1"/>
<text x="660.0" y="660.4" font-size="10.4" text-anchor="middle" fill="#1a1a1a" textLength="13.0" lengthAdjust="spacingAndGlyphs" class="b">Tue</text>
<line x1="680.65" y1="643.5" x2="680.65" y2="647.8" stroke="#000" stroke-width="1"/>
<text x="680.6" y="660.4" font-size="10.4" text-anchor="middle" fill="#1a1a1a" textLength="13.0" lengthAdjust="spacingAndGlyphs" class="b">Tue</text>
<line x1="701.26" y1="643.5" x2="701.26" y2="647.8" stroke="#000" stroke-width="1"/>
<text x="701.3" y="660.4" font-size="10.4" text-anchor="middle" fill="#1a1a1a" textLength="15.8" lengthAdjust="spacingAndGlyphs" class="b">Wed</text>
<line x1="721.88" y1="643.5" x2="721.88" y2="647.8" stroke="#000" stroke-width="1"/>
<text x="721.9" y="660.4" font-size="10.4" text-anchor="middle" fill="#1a1a1a" textLength="15.8" lengthAdjust="spacingAndGlyphs" class="b">Wed</text>
<line x1="742.50" y1="643.5" x2="742.50" y2="647.8" stroke="#000" stroke-width="1"/>
<text x="742.5" y="660.4" font-size="10.4" text-anchor="middle" fill="#1a1a1a" textLength="15.8" lengthAdjust="spacingAndGlyphs" class="b">Wed</text>
<line x1="763.12" y1="643.5" x2="763.12" y2="647.8" stroke="#000" stroke-width="1"/>
<text x="763.1" y="660.4" font-size="10.4" text-anchor="middle" fill="#1a1a1a" textLength="15.8" lengthAdjust="spacingAndGlyphs" class="b">Wed</text>
<line x1="783.74" y1="643.5" x2="783.74" y2="647.8" stroke="#000" stroke-width="1"/>
<text x="783.7" y="660.4" font-size="10.4" text-anchor="middle" fill="#1a1a1a" textLength="13.3" lengthAdjust="spacingAndGlyphs" class="b">Thu</text>
<line x1="804.35" y1="643.5" x2="804.35" y2="647.8" stroke="#000" stroke-width="1"/>
<text x="804.4" y="660.4" font-size="10.4" text-anchor="middle" fill="#1a1a1a" textLength="13.3" lengthAdjust="spacingAndGlyphs" class="b">Thu</text>
<line x1="824.97" y1="643.5" x2="824.97" y2="647.8" stroke="#000" stroke-width="1"/>
<text x="825.0" y="660.4" font-size="10.4" text-anchor="middle" fill="#1a1a1a" textLength="13.3" lengthAdjust="spacingAndGlyphs" class="b">Thu</text>
<line x1="845.59" y1="643.5" x2="845.59" y2="647.8" stroke="#000" stroke-width="1"/>
<text x="845.6" y="660.4" font-size="10.4" text-anchor="middle" fill="#1a1a1a" textLength="13.3" lengthAdjust="spacingAndGlyphs" class="b">Thu</text>
<line x1="866.21" y1="643.5" x2="866.21" y2="647.8" stroke="#000" stroke-width="1"/>
<text x="866.2" y="660.4" font-size="10.4" text-anchor="middle" fill="#1a1a1a" textLength="9.0" lengthAdjust="spacingAndGlyphs" class="b">Fri</text>
<line x1="886.82" y1="643.5" x2="886.82" y2="647.8" stroke="#000" stroke-width="1"/>
<text x="886.8" y="660.4" font-size="10.4" text-anchor="middle" fill="#1a1a1a" textLength="9.0" lengthAdjust="spacingAndGlyphs" class="b">Fri</text>
<line x1="907.44" y1="643.5" x2="907.44" y2="647.8" stroke="#000" stroke-width="1"/>
<text x="907.4" y="660.4" font-size="10.4" text-anchor="middle" fill="#1a1a1a" textLength="9.0" lengthAdjust="spacingAndGlyphs" class="b">Fri</text>
<rect x="72.5" y="666.7" width="845.5" height="59.3" fill="none" stroke="#1e1e1e" stroke-width="1.2"/>
<line x1="68" y1="696.8" x2="72.5" y2="696.8" stroke="#000" stroke-width="1.1"/>
<text x="61.9" y="686.8" font-size="14.0" text-anchor="end" fill="#1a1a1a">Total</text>
<text x="61.9" y="702.8" font-size="14.0" text-anchor="end" fill="#1a1a1a">Snow</text>
<text x="61.9" y="717.5" font-size="14.0" text-anchor="end" fill="#1a1a1a">(cm)</text>
<line x1="82.74" y1="726.0" x2="82.74" y2="730.3" stroke="#000" stroke-width="1"/>
<text x="82.7" y="743.0" font-size="10.6" text-anchor="middle" fill="#1a1a1a" textLength="4.2" lengthAdjust="spacingAndGlyphs" class="b">0</text>
<line x1="103.36" y1="726.0" x2="103.36" y2="730.3" stroke="#000" stroke-width="1"/>
<text x="103.4" y="743.0" font-size="10.6" text-anchor="middle" fill="#1a1a1a" textLength="4.2" lengthAdjust="spacingAndGlyphs" class="b">6</text>
<line x1="123.97" y1="726.0" x2="123.97" y2="730.3" stroke="#000" stroke-width="1"/>
<text x="124.0" y="743.0" font-size="10.6" text-anchor="middle" fill="#1a1a1a" textLength="8.3" lengthAdjust="spacingAndGlyphs" class="b">12</text>
<line x1="144.59" y1="726.0" x2="144.59" y2="730.3" stroke="#000" stroke-width="1"/>
<text x="144.6" y="743.0" font-size="10.6" text-anchor="middle" fill="#1a1a1a" textLength="8.3" lengthAdjust="spacingAndGlyphs" class="b">18</text>
<line x1="165.21" y1="726.0" x2="165.21" y2="730.3" stroke="#000" stroke-width="1"/>
<text x="165.2" y="743.0" font-size="10.6" text-anchor="middle" fill="#1a1a1a" textLength="8.3" lengthAdjust="spacingAndGlyphs" class="b">24</text>
<line x1="185.83" y1="726.0" x2="185.83" y2="730.3" stroke="#000" stroke-width="1"/>
<text x="185.8" y="743.0" font-size="10.6" text-anchor="middle" fill="#1a1a1a" textLength="8.3" lengthAdjust="spacingAndGlyphs" class="b">30</text>
<line x1="206.44" y1="726.0" x2="206.44" y2="730.3" stroke="#000" stroke-width="1"/>
<text x="206.4" y="743.0" font-size="10.6" text-anchor="middle" fill="#1a1a1a" textLength="8.3" lengthAdjust="spacingAndGlyphs" class="b">36</text>
<line x1="227.06" y1="726.0" x2="227.06" y2="730.3" stroke="#000" stroke-width="1"/>
<text x="227.1" y="743.0" font-size="10.6" text-anchor="middle" fill="#1a1a1a" textLength="8.3" lengthAdjust="spacingAndGlyphs" class="b">42</text>
<line x1="247.68" y1="726.0" x2="247.68" y2="730.3" stroke="#000" stroke-width="1"/>
<text x="247.7" y="743.0" font-size="10.6" text-anchor="middle" fill="#1a1a1a" textLength="8.3" lengthAdjust="spacingAndGlyphs" class="b">48</text>
<line x1="268.30" y1="726.0" x2="268.30" y2="730.3" stroke="#000" stroke-width="1"/>
<text x="268.3" y="743.0" font-size="10.6" text-anchor="middle" fill="#1a1a1a" textLength="8.3" lengthAdjust="spacingAndGlyphs" class="b">54</text>
<line x1="288.91" y1="726.0" x2="288.91" y2="730.3" stroke="#000" stroke-width="1"/>
<text x="288.9" y="743.0" font-size="10.6" text-anchor="middle" fill="#1a1a1a" textLength="8.3" lengthAdjust="spacingAndGlyphs" class="b">60</text>
<line x1="309.53" y1="726.0" x2="309.53" y2="730.3" stroke="#000" stroke-width="1"/>
<text x="309.5" y="743.0" font-size="10.6" text-anchor="middle" fill="#1a1a1a" textLength="8.3" lengthAdjust="spacingAndGlyphs" class="b">66</text>
<line x1="330.15" y1="726.0" x2="330.15" y2="730.3" stroke="#000" stroke-width="1"/>
<text x="330.1" y="743.0" font-size="10.6" text-anchor="middle" fill="#1a1a1a" textLength="8.3" lengthAdjust="spacingAndGlyphs" class="b">72</text>
<line x1="350.77" y1="726.0" x2="350.77" y2="730.3" stroke="#000" stroke-width="1"/>
<text x="350.8" y="743.0" font-size="10.6" text-anchor="middle" fill="#1a1a1a" textLength="8.3" lengthAdjust="spacingAndGlyphs" class="b">78</text>
<line x1="371.38" y1="726.0" x2="371.38" y2="730.3" stroke="#000" stroke-width="1"/>
<text x="371.4" y="743.0" font-size="10.6" text-anchor="middle" fill="#1a1a1a" textLength="8.3" lengthAdjust="spacingAndGlyphs" class="b">84</text>
<line x1="392.00" y1="726.0" x2="392.00" y2="730.3" stroke="#000" stroke-width="1"/>
<text x="392.0" y="743.0" font-size="10.6" text-anchor="middle" fill="#1a1a1a" textLength="8.3" lengthAdjust="spacingAndGlyphs" class="b">90</text>
<line x1="412.62" y1="726.0" x2="412.62" y2="730.3" stroke="#000" stroke-width="1"/>
<text x="412.6" y="743.0" font-size="10.6" text-anchor="middle" fill="#1a1a1a" textLength="8.3" lengthAdjust="spacingAndGlyphs" class="b">96</text>
<line x1="433.24" y1="726.0" x2="433.24" y2="730.3" stroke="#000" stroke-width="1"/>
<text x="433.2" y="743.0" font-size="10.6" text-anchor="middle" fill="#1a1a1a" textLength="12.5" lengthAdjust="spacingAndGlyphs" class="b">102</text>
<line x1="453.86" y1="726.0" x2="453.86" y2="730.3" stroke="#000" stroke-width="1"/>
<text x="453.9" y="743.0" font-size="10.6" text-anchor="middle" fill="#1a1a1a" textLength="12.5" lengthAdjust="spacingAndGlyphs" class="b">108</text>
<line x1="474.47" y1="726.0" x2="474.47" y2="730.3" stroke="#000" stroke-width="1"/>
<text x="474.5" y="743.0" font-size="10.6" text-anchor="middle" fill="#1a1a1a" textLength="12.5" lengthAdjust="spacingAndGlyphs" class="b">114</text>
<line x1="495.09" y1="726.0" x2="495.09" y2="730.3" stroke="#000" stroke-width="1"/>
<text x="495.1" y="743.0" font-size="10.6" text-anchor="middle" fill="#1a1a1a" textLength="12.5" lengthAdjust="spacingAndGlyphs" class="b">120</text>
<line x1="515.71" y1="726.0" x2="515.71" y2="730.3" stroke="#000" stroke-width="1"/>
<text x="515.7" y="743.0" font-size="10.6" text-anchor="middle" fill="#1a1a1a" textLength="12.5" lengthAdjust="spacingAndGlyphs" class="b">126</text>
<line x1="536.32" y1="726.0" x2="536.32" y2="730.3" stroke="#000" stroke-width="1"/>
<text x="536.3" y="743.0" font-size="10.6" text-anchor="middle" fill="#1a1a1a" textLength="12.5" lengthAdjust="spacingAndGlyphs" class="b">132</text>
<line x1="556.94" y1="726.0" x2="556.94" y2="730.3" stroke="#000" stroke-width="1"/>
<text x="556.9" y="743.0" font-size="10.6" text-anchor="middle" fill="#1a1a1a" textLength="12.5" lengthAdjust="spacingAndGlyphs" class="b">138</text>
<line x1="577.56" y1="726.0" x2="577.56" y2="730.3" stroke="#000" stroke-width="1"/>
<text x="577.6" y="743.0" font-size="10.6" text-anchor="middle" fill="#1a1a1a" textLength="12.5" lengthAdjust="spacingAndGlyphs" class="b">144</text>
<line x1="598.18" y1="726.0" x2="598.18" y2="730.3" stroke="#000" stroke-width="1"/>
<text x="598.2" y="743.0" font-size="10.6" text-anchor="middle" fill="#1a1a1a" textLength="12.5" lengthAdjust="spacingAndGlyphs" class="b">150</text>
<line x1="618.79" y1="726.0" x2="618.79" y2="730.3" stroke="#000" stroke-width="1"/>
<text x="618.8" y="743.0" font-size="10.6" text-anchor="middle" fill="#1a1a1a" textLength="12.5" lengthAdjust="spacingAndGlyphs" class="b">156</text>
<line x1="639.41" y1="726.0" x2="639.41" y2="730.3" stroke="#000" stroke-width="1"/>
<text x="639.4" y="743.0" font-size="10.6" text-anchor="middle" fill="#1a1a1a" textLength="12.5" lengthAdjust="spacingAndGlyphs" class="b">162</text>
<line x1="660.03" y1="726.0" x2="660.03" y2="730.3" stroke="#000" stroke-width="1"/>
<text x="660.0" y="743.0" font-size="10.6" text-anchor="middle" fill="#1a1a1a" textLength="12.5" lengthAdjust="spacingAndGlyphs" class="b">168</text>
<line x1="680.65" y1="726.0" x2="680.65" y2="730.3" stroke="#000" stroke-width="1"/>
<text x="680.6" y="743.0" font-size="10.6" text-anchor="middle" fill="#1a1a1a" textLength="12.5" lengthAdjust="spacingAndGlyphs" class="b">174</text>
<line x1="701.26" y1="726.0" x2="701.26" y2="730.3" stroke="#000" stroke-width="1"/>
<text x="701.3" y="743.0" font-size="10.6" text-anchor="middle" fill="#1a1a1a" textLength="12.5" lengthAdjust="spacingAndGlyphs" class="b">180</text>
<line x1="721.88" y1="726.0" x2="721.88" y2="730.3" stroke="#000" stroke-width="1"/>
<text x="721.9" y="743.0" font-size="10.6" text-anchor="middle" fill="#1a1a1a" textLength="12.5" lengthAdjust="spacingAndGlyphs" class="b">186</text>
<line x1="742.50" y1="726.0" x2="742.50" y2="730.3" stroke="#000" stroke-width="1"/>
<text x="742.5" y="743.0" font-size="10.6" text-anchor="middle" fill="#1a1a1a" textLength="12.5" lengthAdjust="spacingAndGlyphs" class="b">192</text>
<line x1="763.12" y1="726.0" x2="763.12" y2="730.3" stroke="#000" stroke-width="1"/>
<text x="763.1" y="743.0" font-size="10.6" text-anchor="middle" fill="#1a1a1a" textLength="12.5" lengthAdjust="spacingAndGlyphs" class="b">198</text>
<line x1="783.74" y1="726.0" x2="783.74" y2="730.3" stroke="#000" stroke-width="1"/>
<text x="783.7" y="743.0" font-size="10.6" text-anchor="middle" fill="#1a1a1a" textLength="12.5" lengthAdjust="spacingAndGlyphs" class="b">204</text>
<line x1="804.35" y1="726.0" x2="804.35" y2="730.3" stroke="#000" stroke-width="1"/>
<text x="804.4" y="743.0" font-size="10.6" text-anchor="middle" fill="#1a1a1a" textLength="12.5" lengthAdjust="spacingAndGlyphs" class="b">210</text>
<line x1="824.97" y1="726.0" x2="824.97" y2="730.3" stroke="#000" stroke-width="1"/>
<text x="825.0" y="743.0" font-size="10.6" text-anchor="middle" fill="#1a1a1a" textLength="12.5" lengthAdjust="spacingAndGlyphs" class="b">216</text>
<line x1="845.59" y1="726.0" x2="845.59" y2="730.3" stroke="#000" stroke-width="1"/>
<text x="845.6" y="743.0" font-size="10.6" text-anchor="middle" fill="#1a1a1a" textLength="12.5" lengthAdjust="spacingAndGlyphs" class="b">222</text>
<line x1="866.21" y1="726.0" x2="866.21" y2="730.3" stroke="#000" stroke-width="1"/>
<text x="866.2" y="743.0" font-size="10.6" text-anchor="middle" fill="#1a1a1a" textLength="12.5" lengthAdjust="spacingAndGlyphs" class="b">228</text>
<line x1="886.82" y1="726.0" x2="886.82" y2="730.3" stroke="#000" stroke-width="1"/>
<text x="886.8" y="743.0" font-size="10.6" text-anchor="middle" fill="#1a1a1a" textLength="12.5" lengthAdjust="spacingAndGlyphs" class="b">234</text>
<line x1="907.44" y1="726.0" x2="907.44" y2="730.3" stroke="#000" stroke-width="1"/>
<text x="907.4" y="743.0" font-size="10.6" text-anchor="middle" fill="#1a1a1a" textLength="12.5" lengthAdjust="spacingAndGlyphs" class="b">240</text>
<text x="431.0" y="757.2" font-size="9.6" text-anchor="start" fill="#000" textLength="487.0" lengthAdjust="spacingAndGlyphs" class="b">© 2025 European Centre for Medium-Range Weather Forecasts (ECMWF). This service is based on data and products of the ECMWF.</text>
</svg></body></html>
